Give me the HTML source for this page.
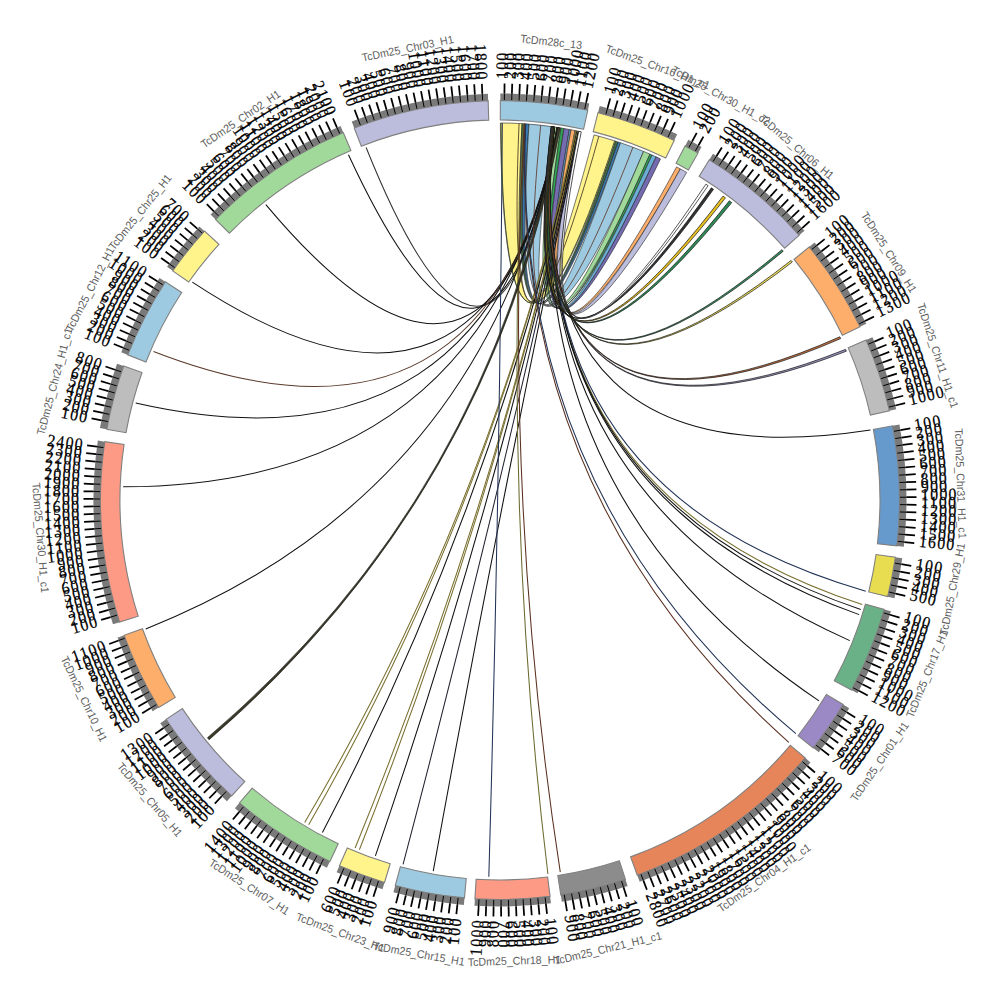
<!DOCTYPE html>
<html><head><meta charset="utf-8"><style>
html,body{margin:0;padding:0;background:#fff;}
svg{display:block;}
</style></head><body>
<svg width="1000" height="1000" viewBox="0 0 1000 1000">
<rect width="1000" height="1000" fill="#fff"/>
<g id="links">
<path d="M500.33,123 A377,377 0 0 1 522.03,123.64 Q504.06,474.05 594.01,134.91 A377,377 0 0 1 615.62,141.17 Q504.06,474.25 500.33,123 Z" fill="#fff38c" stroke="#222" stroke-width="0.6"/>
<path d="M522.03,123.64 A377,377 0 0 1 525.64,123.87 Q504.94,474.28 615.62,141.17 A377,377 0 0 1 618.06,141.96 Q504.9,474.3 522.03,123.64 Z" fill="#3e6e48" stroke="#222" stroke-width="0.6"/>
<path d="M525.64,123.87 A377,377 0 0 1 528.99,124.12 Q505.15,474.31 618.06,141.96 A377,377 0 0 1 620.5,142.78 Q505.11,474.33 525.64,123.87 Z" fill="#3a78b0" stroke="#222" stroke-width="0.6"/>
<path d="M528.99,124.12 A377,377 0 0 1 552.01,126.61 Q506.04,474.43 620.5,142.78 A377,377 0 0 1 643.6,151.42 Q506.04,474.64 528.99,124.12 Z" fill="#9ecae1" stroke="#222" stroke-width="0.6"/>
<path d="M554.75,127 A377,377 0 0 1 560.99,127.97 Q507.16,474.78 643.6,151.42 A377,377 0 0 1 649.97,154.11 Q507.16,474.84 554.75,127 Z" fill="#a1d99b" stroke="#222" stroke-width="0.6"/>
<path d="M560.99,127.97 A377,377 0 0 1 563.97,128.47 Q507.49,474.89 649.97,154.11 A377,377 0 0 1 652.02,155.01 Q507.46,474.9 560.99,127.97 Z" fill="#31a354" stroke="#222" stroke-width="0.6"/>
<path d="M563.97,128.47 A377,377 0 0 1 569.41,129.45 Q507.89,475.02 655.98,156.78 A377,377 0 0 1 660.52,158.88 Q507.86,475.06 563.97,128.47 Z" fill="#756bb1" stroke="#222" stroke-width="0.6"/>
<path d="M569.41,129.45 A377,377 0 0 1 571.03,129.75 Q507.81,474.97 652.02,155.01 A377,377 0 0 1 655.98,156.78 Q507.89,475.02 569.41,129.45 Z" fill="#6baed6" stroke="#222" stroke-width="0.6"/>
<path d="M571.03,129.75 A377,377 0 0 1 574.97,130.53 Q508.8,475.41 676.58,166.91 A377,377 0 0 1 680.35,168.94 Q508.8,475.45 571.03,129.75 Z" fill="#fdae6b" stroke="#222" stroke-width="0.6"/>
<path d="M574.97,130.53 A377,377 0 0 1 580.63,131.72 Q509.13,475.52 680.35,168.94 A377,377 0 0 1 686.67,172.46 Q509.16,475.6 574.97,130.53 Z" fill="#bcbddc" stroke="#222" stroke-width="0.6"/>
<path d="M557.03,127.34 Q496.69,474.87 348.47,154.8" fill="none" stroke="#111" stroke-width="1.05"/>
<path d="M557.35,127.39 Q497.32,474.62 366.12,147.57" fill="none" stroke="#333" stroke-width="1.05"/>
<path d="M557.03,127.34 Q493.8,476.62 265.83,204.55" fill="none" stroke="#111" stroke-width="1.05"/>
<path d="M557.68,127.44 Q491.25,479.34 192.32,282.15" fill="none" stroke="#111" stroke-width="1.05"/>
<path d="M557.68,127.44 Q489.89,481.76 153.49,351.48" fill="none" stroke="#5a3a2a" stroke-width="1.05"/>
<path d="M558,127.49 Q489.28,483.57 135.68,403.06" fill="none" stroke="#111" stroke-width="1.05"/>
<path d="M558,127.49 Q488.84,486.5 123.23,486.84" fill="none" stroke="#111" stroke-width="1.05"/>
<path d="M558.33,127.54 Q489.64,491.48 145.74,628.94" fill="none" stroke="#111" stroke-width="1.05"/>
<path d="M575.81,130.7 Q495.82,498.36 304.7,822.47" fill="none" stroke="#7a7030" stroke-width="1.05"/>
<path d="M576.13,130.77 Q495.97,498.45 308.66,824.83" fill="none" stroke="#7a7030" stroke-width="1.05"/>
<path d="M577.1,130.97 Q496.48,498.72 322.43,832.56" fill="none" stroke="#111" stroke-width="1.05"/>
<path d="M577.74,131.1 Q497.65,499.27 355.12,848.05" fill="none" stroke="#7a7030" stroke-width="1.05"/>
<path d="M578.06,131.17 Q497.81,499.33 359.38,849.79" fill="none" stroke="#7a7030" stroke-width="1.05"/>
<path d="M578.38,131.24 Q498.38,499.55 375.4,855.81" fill="none" stroke="#111" stroke-width="1.05"/>
<path d="M579.03,131.38 Q499.37,499.85 403.06,864.32" fill="none" stroke="#223" stroke-width="1.05"/>
<path d="M579.35,131.44 Q500.44,500.09 433.24,871.04" fill="none" stroke="#111" stroke-width="1.05"/>
<path d="M502.3,123.01 Q499.69,499.99 488.82,876.83" fill="none" stroke="#223355" stroke-width="1.05"/>
<path d="M523.67,123.74 Q502.51,499.92 547.9,873.94" fill="none" stroke="#6b6a30" stroke-width="1.05"/>
<path d="M524.33,123.79 Q502.96,499.86 560.28,872.15" fill="none" stroke="#5a3020" stroke-width="1.05"/>
<path d="M524.99,123.83 Q510.98,495.32 788.8,742.33" fill="none" stroke="#5a3020" stroke-width="1.05"/>
<path d="M525.64,123.87 Q511.25,495.01 795.86,733.66" fill="none" stroke="#223355" stroke-width="1.05"/>
<path d="M554.42,126.95 Q513.07,493.97 819.01,700.89" fill="none" stroke="#111" stroke-width="1.05"/>
<path d="M554.42,126.95 Q514.15,491.86 849.79,640.62" fill="none" stroke="#111" stroke-width="1.05"/>
<path d="M554.1,126.9 Q514.57,490.6 862.21,604.55" fill="none" stroke="#7a7030" stroke-width="1.05"/>
<path d="M554.1,126.9 Q514.52,490.78 860.72,609.59" fill="none" stroke="#111" stroke-width="1.05"/>
<path d="M554.1,126.9 Q514.46,490.95 859.15,614.62" fill="none" stroke="#111" stroke-width="1.05"/>
<path d="M553.77,126.85 Q514.69,490.13 865.8,591.2" fill="none" stroke="#223355" stroke-width="1.05"/>
<path d="M553.77,126.85 Q514.85,484.49 870.45,430" fill="none" stroke="#111" stroke-width="1.05"/>
<path d="M557.68,127.44 A377,377 0 0 1 560.28,127.85 Q491.93,495.37 209.1,739.8 A377,377 0 0 1 207.43,737.76 Q491.78,495.28 557.68,127.44 Z" fill="#3b3a28" stroke="#111" stroke-width="0.6"/>
<path d="M598.85,136.19 Q504.13,474.09 519.07,123.48" fill="none" stroke="#3a2a1a" stroke-width="0.8"/>
<path d="M632.95,147.22 Q506.08,474.53 540.72,125.21" fill="none" stroke="#5a3020" stroke-width="0.8"/>
<path d="M500.99,123 Q504.05,474.23 614.62,140.85" fill="none" stroke="#2a3a2a" stroke-width="0.8"/>
<path d="M552.47,126.67 A377,377 0 0 1 554.42,126.95 Q514,481.67 845.6,349.37 A377,377 0 0 1 846.38,351.18 Q513.96,481.72 552.47,126.67 Z" fill="#9a98c0" stroke="#111" stroke-width="0.7"/>
<path d="M552.47,126.67 A377,377 0 0 1 554.42,126.95 Q513.8,481.23 839.85,336.81 A377,377 0 0 1 840.7,338.59 Q513.76,481.28 552.47,126.67 Z" fill="#c07040" stroke="#111" stroke-width="0.7"/>
<path d="M552.14,126.62 A377,377 0 0 1 554.1,126.9 Q512.08,478.56 791.11,260.45 A377,377 0 0 1 792.36,261.98 Q512.06,478.6 552.14,126.62 Z" fill="#f0e060" stroke="#111" stroke-width="0.7"/>
<path d="M552.14,126.62 A377,377 0 0 1 554.1,126.9 Q511.76,478.18 781.92,249.7 A377,377 0 0 1 783.23,251.18 Q511.74,478.22 552.14,126.62 Z" fill="#3a9060" stroke="#111" stroke-width="0.7"/>
<path d="M551.33,126.51 A377,377 0 0 1 554.26,126.93 Q509.93,476.47 729.37,200.81 A377,377 0 0 1 731.72,202.62 Q509.91,476.52 551.33,126.51 Z" fill="#2e8b57" stroke="#111" stroke-width="0.7"/>
<path d="M551.33,126.51 A377,377 0 0 1 554.26,126.93 Q509.71,476.3 723.06,196.07 A377,377 0 0 1 725.44,197.83 Q509.69,476.35 551.33,126.51 Z" fill="#e8c020" stroke="#111" stroke-width="0.7"/>
<path d="M551.16,126.49 A377,377 0 0 1 553.77,126.85 Q509.28,476.01 711.36,187.82 A377,377 0 0 1 713.54,189.3 Q509.26,476.05 551.16,126.49 Z" fill="#333" stroke="#111" stroke-width="0.7"/>
<path d="M578.7,131.31 A377,377 0 0 1 581.28,131.87 Q510.05,476.06 705.88,184.18 A377,377 0 0 1 708.08,185.63 Q510.04,476.09 578.7,131.31 Z" fill="#fff" stroke="#111" stroke-width="0.7"/>
</g>
<g id="ideo">
<path d="M500.35,100.5 A399.5,399.5 0 0 1 587.83,110.27 L583.54,129.3 A380,380 0 0 0 500.33,120 Z" fill="#9ecae1" stroke="#808080" stroke-width="1.1"/>
<path d="M500.35,93.5 A406.5,406.5 0 0 1 589.37,103.45 L587.83,110.27 A399.5,399.5 0 0 0 500.35,100.5 Z" fill="#7a7a7a"/>
<path d="M598,112.71 A399.5,399.5 0 0 1 674.19,140.47 L665.69,158.02 A380,380 0 0 0 593.22,131.61 Z" fill="#fff38c" stroke="#808080" stroke-width="1.1"/>
<path d="M599.72,105.92 A406.5,406.5 0 0 1 677.24,134.17 L674.19,140.47 A399.5,399.5 0 0 0 598,112.71 Z" fill="#7a7a7a"/>
<path d="M685.09,145.96 A399.5,399.5 0 0 1 698.06,153.05 L688.39,169.99 A380,380 0 0 0 676.05,163.24 Z" fill="#a1d99b" stroke="#808080" stroke-width="1.1"/>
<path d="M688.33,139.76 A406.5,406.5 0 0 1 701.53,146.97 L698.06,153.05 A399.5,399.5 0 0 0 685.09,145.96 Z" fill="#7a7a7a"/>
<path d="M709.33,159.74 A399.5,399.5 0 0 1 799.21,235.28 L784.6,248.2 A380,380 0 0 0 699.11,176.34 Z" fill="#bcbddc" stroke="#808080" stroke-width="1.1"/>
<path d="M713,153.77 A406.5,406.5 0 0 1 804.45,230.64 L799.21,235.28 A399.5,399.5 0 0 0 709.33,159.74 Z" fill="#7a7a7a"/>
<path d="M809.15,246.96 A399.5,399.5 0 0 1 859.98,326.75 L842.41,335.21 A380,380 0 0 0 794.06,259.32 Z" fill="#fdae6b" stroke="#808080" stroke-width="1.1"/>
<path d="M814.57,242.53 A406.5,406.5 0 0 1 866.29,323.72 L859.98,326.75 A399.5,399.5 0 0 0 809.15,246.96 Z" fill="#7a7a7a"/>
<path d="M866.09,340.06 A399.5,399.5 0 0 1 889.42,410.81 L870.41,415.16 A380,380 0 0 0 848.22,347.87 Z" fill="#bdbdbd" stroke="#808080" stroke-width="1.1"/>
<path d="M872.5,337.26 A406.5,406.5 0 0 1 896.24,409.25 L889.42,410.81 A399.5,399.5 0 0 0 866.09,340.06 Z" fill="#7a7a7a"/>
<path d="M892.55,425.83 A399.5,399.5 0 0 1 896.85,545.92 L877.48,543.68 A380,380 0 0 0 873.39,429.45 Z" fill="#6699cc" stroke="#808080" stroke-width="1.1"/>
<path d="M899.43,424.53 A406.5,406.5 0 0 1 903.81,546.72 L896.85,545.92 A399.5,399.5 0 0 0 892.55,425.83 Z" fill="#7a7a7a"/>
<path d="M895.37,557.33 A399.5,399.5 0 0 1 887.63,596.65 L868.71,591.93 A380,380 0 0 0 876.07,554.53 Z" fill="#e8dc50" stroke="#808080" stroke-width="1.1"/>
<path d="M902.29,558.33 A406.5,406.5 0 0 1 894.43,598.34 L887.63,596.65 A399.5,399.5 0 0 0 895.37,557.33 Z" fill="#7a7a7a"/>
<path d="M884.22,609.45 A399.5,399.5 0 0 1 851.42,690.01 L834.27,680.74 A380,380 0 0 0 865.46,604.1 Z" fill="#6ab187" stroke="#808080" stroke-width="1.1"/>
<path d="M890.95,611.36 A406.5,406.5 0 0 1 857.58,693.34 L851.42,690.01 A399.5,399.5 0 0 0 884.22,609.45 Z" fill="#7a7a7a"/>
<path d="M843.15,704.56 A399.5,399.5 0 0 1 813.3,747.88 L798.01,735.78 A380,380 0 0 0 826.4,694.58 Z" fill="#9a89c4" stroke="#808080" stroke-width="1.1"/>
<path d="M849.17,708.15 A406.5,406.5 0 0 1 818.79,752.22 L813.3,747.88 A399.5,399.5 0 0 0 843.15,704.56 Z" fill="#7a7a7a"/>
<path d="M805.14,757.86 A399.5,399.5 0 0 1 637.29,875.17 L630.59,856.86 A380,380 0 0 0 790.24,745.27 Z" fill="#e6855a" stroke="#808080" stroke-width="1.1"/>
<path d="M810.48,762.38 A406.5,406.5 0 0 1 639.7,881.74 L637.29,875.17 A399.5,399.5 0 0 0 805.14,757.86 Z" fill="#7a7a7a"/>
<path d="M625.44,879.3 A399.5,399.5 0 0 1 560.77,894.85 L557.81,875.58 A380,380 0 0 0 619.32,860.78 Z" fill="#8c8c8c" stroke="#808080" stroke-width="1.1"/>
<path d="M627.64,885.94 A406.5,406.5 0 0 1 561.84,901.77 L560.77,894.85 A399.5,399.5 0 0 0 625.44,879.3 Z" fill="#7a7a7a"/>
<path d="M550.07,896.35 A399.5,399.5 0 0 1 474.92,898.71 L476.14,879.25 A380,380 0 0 0 547.63,877 Z" fill="#fc9a85" stroke="#808080" stroke-width="1.1"/>
<path d="M550.95,903.29 A406.5,406.5 0 0 1 474.48,905.7 L474.92,898.71 A399.5,399.5 0 0 0 550.07,896.35 Z" fill="#7a7a7a"/>
<path d="M464.49,897.92 A399.5,399.5 0 0 1 395.26,885.52 L400.37,866.71 A380,380 0 0 0 466.22,878.5 Z" fill="#9ecae1" stroke="#808080" stroke-width="1.1"/>
<path d="M463.86,904.89 A406.5,406.5 0 0 1 393.42,892.28 L395.26,885.52 A399.5,399.5 0 0 0 464.49,897.92 Z" fill="#7a7a7a"/>
<path d="M384.53,882.45 A399.5,399.5 0 0 1 339.42,865.81 L347.26,847.95 A380,380 0 0 0 390.17,863.78 Z" fill="#fff38c" stroke="#808080" stroke-width="1.1"/>
<path d="M382.51,889.15 A406.5,406.5 0 0 1 336.61,872.22 L339.42,865.81 A399.5,399.5 0 0 0 384.53,882.45 Z" fill="#7a7a7a"/>
<path d="M329.9,861.48 A399.5,399.5 0 0 1 239.49,802.87 L252.2,788.09 A380,380 0 0 0 338.2,843.83 Z" fill="#a1d99b" stroke="#808080" stroke-width="1.1"/>
<path d="M326.92,867.81 A406.5,406.5 0 0 1 234.92,808.18 L239.49,802.87 A399.5,399.5 0 0 0 329.9,861.48 Z" fill="#7a7a7a"/>
<path d="M231.65,795.95 A399.5,399.5 0 0 1 166.09,719.33 L182.39,708.63 A380,380 0 0 0 244.75,781.51 Z" fill="#bcbddc" stroke="#808080" stroke-width="1.1"/>
<path d="M226.95,801.14 A406.5,406.5 0 0 1 160.24,723.18 L166.09,719.33 A399.5,399.5 0 0 0 231.65,795.95 Z" fill="#7a7a7a"/>
<path d="M158.64,707.55 A399.5,399.5 0 0 1 124.12,635.33 L142.47,628.72 A380,380 0 0 0 175.31,697.42 Z" fill="#fdae6b" stroke="#808080" stroke-width="1.1"/>
<path d="M152.66,711.18 A406.5,406.5 0 0 1 117.53,637.7 L124.12,635.33 A399.5,399.5 0 0 0 158.64,707.55 Z" fill="#7a7a7a"/>
<path d="M119.62,622.13 A399.5,399.5 0 0 1 104.79,441.64 L124.08,444.49 A380,380 0 0 0 138.19,616.16 Z" fill="#fc9a85" stroke="#808080" stroke-width="1.1"/>
<path d="M112.96,624.27 A406.5,406.5 0 0 1 97.86,440.62 L104.79,441.64 A399.5,399.5 0 0 0 119.62,622.13 Z" fill="#7a7a7a"/>
<path d="M106.81,429.25 A399.5,399.5 0 0 1 123.65,365.99 L142.02,372.53 A380,380 0 0 0 126.01,432.71 Z" fill="#bdbdbd" stroke="#808080" stroke-width="1.1"/>
<path d="M99.92,428.02 A406.5,406.5 0 0 1 117.05,363.64 L123.65,365.99 A399.5,399.5 0 0 0 106.81,429.25 Z" fill="#7a7a7a"/>
<path d="M127.79,354.88 A399.5,399.5 0 0 1 165.33,281.83 L181.67,292.48 A380,380 0 0 0 145.96,361.96 Z" fill="#9ecae1" stroke="#808080" stroke-width="1.1"/>
<path d="M121.27,352.34 A406.5,406.5 0 0 1 159.47,278.01 L165.33,281.83 A399.5,399.5 0 0 0 127.79,354.88 Z" fill="#7a7a7a"/>
<path d="M172.75,270.86 A399.5,399.5 0 0 1 204.52,231.13 L218.94,244.26 A380,380 0 0 0 188.72,282.04 Z" fill="#fff38c" stroke="#808080" stroke-width="1.1"/>
<path d="M167.01,266.84 A406.5,406.5 0 0 1 199.34,226.42 L204.52,231.13 A399.5,399.5 0 0 0 172.75,270.86 Z" fill="#7a7a7a"/>
<path d="M215.55,219.49 A399.5,399.5 0 0 1 343.26,132.53 L350.91,150.47 A380,380 0 0 0 229.43,233.18 Z" fill="#a1d99b" stroke="#808080" stroke-width="1.1"/>
<path d="M210.56,214.57 A406.5,406.5 0 0 1 340.51,126.09 L343.26,132.53 A399.5,399.5 0 0 0 215.55,219.49 Z" fill="#7a7a7a"/>
<path d="M354.23,128.04 A399.5,399.5 0 0 1 488.15,100.68 L488.73,120.17 A380,380 0 0 0 361.35,146.2 Z" fill="#bcbddc" stroke="#808080" stroke-width="1.1"/>
<path d="M351.68,121.53 A406.5,406.5 0 0 1 487.94,93.68 L488.15,100.68 A399.5,399.5 0 0 0 354.23,128.04 Z" fill="#7a7a7a"/>
</g>
<g id="ticks" stroke="#000">
<line x1="504.36" y1="100.02" x2="504.43" y2="93.52" stroke-width="1"/>
<line x1="504.43" y1="93.52" x2="504.54" y2="83.52" stroke-width="1.75"/>
<line x1="511.73" y1="100.17" x2="511.92" y2="93.67" stroke-width="1"/>
<line x1="511.92" y1="93.67" x2="512.21" y2="83.68" stroke-width="1.75"/>
<line x1="519.08" y1="100.46" x2="519.4" y2="93.96" stroke-width="1"/>
<line x1="519.4" y1="93.96" x2="519.87" y2="83.97" stroke-width="1.75"/>
<line x1="526.44" y1="100.87" x2="526.87" y2="94.39" stroke-width="1"/>
<line x1="526.87" y1="94.39" x2="527.53" y2="84.41" stroke-width="1.75"/>
<line x1="533.78" y1="101.43" x2="534.33" y2="94.95" stroke-width="1"/>
<line x1="534.33" y1="94.95" x2="535.18" y2="84.99" stroke-width="1.75"/>
<line x1="541.12" y1="102.12" x2="541.78" y2="95.65" stroke-width="1"/>
<line x1="541.78" y1="95.65" x2="542.81" y2="85.71" stroke-width="1.75"/>
<line x1="548.43" y1="102.94" x2="549.22" y2="96.49" stroke-width="1"/>
<line x1="549.22" y1="96.49" x2="550.43" y2="86.56" stroke-width="1.75"/>
<line x1="555.74" y1="103.9" x2="556.64" y2="97.47" stroke-width="1"/>
<line x1="556.64" y1="97.47" x2="558.04" y2="87.56" stroke-width="1.75"/>
<line x1="563.02" y1="105" x2="564.04" y2="98.58" stroke-width="1"/>
<line x1="564.04" y1="98.58" x2="565.62" y2="88.7" stroke-width="1.75"/>
<line x1="570.28" y1="106.22" x2="571.42" y2="99.82" stroke-width="1"/>
<line x1="571.42" y1="99.82" x2="573.18" y2="89.98" stroke-width="1.75"/>
<line x1="577.52" y1="107.58" x2="578.78" y2="101.21" stroke-width="1"/>
<line x1="578.78" y1="101.21" x2="580.72" y2="91.4" stroke-width="1.75"/>
<line x1="584.73" y1="109.08" x2="586.11" y2="102.73" stroke-width="1"/>
<line x1="586.11" y1="102.73" x2="588.23" y2="92.95" stroke-width="1.75"/>
<line x1="605.89" y1="114.27" x2="607.61" y2="108" stroke-width="1"/>
<line x1="607.61" y1="108" x2="610.25" y2="98.36" stroke-width="1.75"/>
<line x1="612.97" y1="116.28" x2="614.81" y2="110.05" stroke-width="1"/>
<line x1="614.81" y1="110.05" x2="617.63" y2="100.46" stroke-width="1.75"/>
<line x1="620.02" y1="118.43" x2="621.97" y2="112.23" stroke-width="1"/>
<line x1="621.97" y1="112.23" x2="624.97" y2="102.69" stroke-width="1.75"/>
<line x1="627.02" y1="120.7" x2="629.09" y2="114.54" stroke-width="1"/>
<line x1="629.09" y1="114.54" x2="632.26" y2="105.06" stroke-width="1.75"/>
<line x1="633.98" y1="123.11" x2="636.16" y2="116.98" stroke-width="1"/>
<line x1="636.16" y1="116.98" x2="639.51" y2="107.56" stroke-width="1.75"/>
<line x1="640.9" y1="125.64" x2="643.19" y2="119.55" stroke-width="1"/>
<line x1="643.19" y1="119.55" x2="646.71" y2="110.2" stroke-width="1.75"/>
<line x1="647.77" y1="128.3" x2="650.17" y2="122.26" stroke-width="1"/>
<line x1="650.17" y1="122.26" x2="653.86" y2="112.96" stroke-width="1.75"/>
<line x1="654.59" y1="131.08" x2="657.1" y2="125.08" stroke-width="1"/>
<line x1="657.1" y1="125.08" x2="660.96" y2="115.86" stroke-width="1.75"/>
<line x1="661.35" y1="133.99" x2="663.98" y2="128.04" stroke-width="1"/>
<line x1="663.98" y1="128.04" x2="668.01" y2="118.89" stroke-width="1.75"/>
<line x1="668.07" y1="137.02" x2="670.8" y2="131.12" stroke-width="1"/>
<line x1="670.8" y1="131.12" x2="675" y2="122.05" stroke-width="1.75"/>
<line x1="688.93" y1="147.43" x2="692" y2="141.7" stroke-width="1"/>
<line x1="692" y1="141.7" x2="696.73" y2="132.89" stroke-width="1.75"/>
<line x1="695.39" y1="150.97" x2="698.57" y2="145.3" stroke-width="1"/>
<line x1="698.57" y1="145.3" x2="703.45" y2="136.57" stroke-width="1.75"/>
<line x1="713.1" y1="161.49" x2="716.56" y2="155.99" stroke-width="1"/>
<line x1="716.56" y1="155.99" x2="721.89" y2="147.53" stroke-width="1.75"/>
<line x1="719.3" y1="165.47" x2="722.86" y2="160.04" stroke-width="1"/>
<line x1="722.86" y1="160.04" x2="728.34" y2="151.67" stroke-width="1.75"/>
<line x1="725.42" y1="169.57" x2="729.08" y2="164.2" stroke-width="1"/>
<line x1="729.08" y1="164.2" x2="734.72" y2="155.94" stroke-width="1.75"/>
<line x1="731.46" y1="173.77" x2="735.22" y2="168.47" stroke-width="1"/>
<line x1="735.22" y1="168.47" x2="741.01" y2="160.32" stroke-width="1.75"/>
<line x1="737.43" y1="178.09" x2="741.29" y2="172.86" stroke-width="1"/>
<line x1="741.29" y1="172.86" x2="747.22" y2="164.81" stroke-width="1.75"/>
<line x1="743.32" y1="182.52" x2="747.27" y2="177.36" stroke-width="1"/>
<line x1="747.27" y1="177.36" x2="753.35" y2="169.42" stroke-width="1.75"/>
<line x1="749.12" y1="187.05" x2="753.17" y2="181.96" stroke-width="1"/>
<line x1="753.17" y1="181.96" x2="759.4" y2="174.14" stroke-width="1.75"/>
<line x1="754.84" y1="191.69" x2="758.98" y2="186.68" stroke-width="1"/>
<line x1="758.98" y1="186.68" x2="765.35" y2="178.97" stroke-width="1.75"/>
<line x1="760.48" y1="196.43" x2="764.71" y2="191.5" stroke-width="1"/>
<line x1="764.71" y1="191.5" x2="771.22" y2="183.91" stroke-width="1.75"/>
<line x1="766.02" y1="201.28" x2="770.34" y2="196.43" stroke-width="1"/>
<line x1="770.34" y1="196.43" x2="776.99" y2="188.96" stroke-width="1.75"/>
<line x1="771.48" y1="206.23" x2="775.89" y2="201.46" stroke-width="1"/>
<line x1="775.89" y1="201.46" x2="782.67" y2="194.11" stroke-width="1.75"/>
<line x1="776.84" y1="211.28" x2="781.34" y2="206.59" stroke-width="1"/>
<line x1="781.34" y1="206.59" x2="788.26" y2="199.37" stroke-width="1.75"/>
<line x1="782.11" y1="216.42" x2="786.69" y2="211.82" stroke-width="1"/>
<line x1="786.69" y1="211.82" x2="793.74" y2="204.73" stroke-width="1.75"/>
<line x1="787.28" y1="221.67" x2="791.95" y2="217.14" stroke-width="1"/>
<line x1="791.95" y1="217.14" x2="799.13" y2="210.18" stroke-width="1.75"/>
<line x1="792.36" y1="227" x2="797.11" y2="222.57" stroke-width="1"/>
<line x1="797.11" y1="222.57" x2="804.42" y2="215.74" stroke-width="1.75"/>
<line x1="797.33" y1="232.43" x2="802.17" y2="228.08" stroke-width="1"/>
<line x1="802.17" y1="228.08" x2="809.6" y2="221.39" stroke-width="1.75"/>
<line x1="811.81" y1="249.45" x2="816.88" y2="245.38" stroke-width="1"/>
<line x1="816.88" y1="245.38" x2="824.67" y2="239.12" stroke-width="1.75"/>
<line x1="816.37" y1="255.23" x2="821.51" y2="251.26" stroke-width="1"/>
<line x1="821.51" y1="251.26" x2="829.42" y2="245.14" stroke-width="1.75"/>
<line x1="820.82" y1="261.1" x2="826.04" y2="257.22" stroke-width="1"/>
<line x1="826.04" y1="257.22" x2="834.06" y2="251.25" stroke-width="1.75"/>
<line x1="825.17" y1="267.05" x2="830.45" y2="263.26" stroke-width="1"/>
<line x1="830.45" y1="263.26" x2="838.58" y2="257.44" stroke-width="1.75"/>
<line x1="829.4" y1="273.08" x2="834.75" y2="269.39" stroke-width="1"/>
<line x1="834.75" y1="269.39" x2="842.99" y2="263.71" stroke-width="1.75"/>
<line x1="833.52" y1="279.18" x2="838.94" y2="275.59" stroke-width="1"/>
<line x1="838.94" y1="275.59" x2="847.28" y2="270.07" stroke-width="1.75"/>
<line x1="837.53" y1="285.36" x2="843.02" y2="281.87" stroke-width="1"/>
<line x1="843.02" y1="281.87" x2="851.46" y2="276.5" stroke-width="1.75"/>
<line x1="841.43" y1="291.61" x2="846.98" y2="288.22" stroke-width="1"/>
<line x1="846.98" y1="288.22" x2="855.51" y2="283.01" stroke-width="1.75"/>
<line x1="845.21" y1="297.93" x2="850.82" y2="294.65" stroke-width="1"/>
<line x1="850.82" y1="294.65" x2="859.45" y2="289.59" stroke-width="1.75"/>
<line x1="848.87" y1="304.32" x2="854.54" y2="301.14" stroke-width="1"/>
<line x1="854.54" y1="301.14" x2="863.26" y2="296.25" stroke-width="1.75"/>
<line x1="852.41" y1="310.78" x2="858.14" y2="307.7" stroke-width="1"/>
<line x1="858.14" y1="307.7" x2="866.95" y2="302.97" stroke-width="1.75"/>
<line x1="855.84" y1="317.3" x2="861.62" y2="314.33" stroke-width="1"/>
<line x1="861.62" y1="314.33" x2="870.51" y2="309.76" stroke-width="1.75"/>
<line x1="859.14" y1="323.88" x2="864.98" y2="321.02" stroke-width="1"/>
<line x1="864.98" y1="321.02" x2="873.95" y2="316.62" stroke-width="1.75"/>
<line x1="868.37" y1="344.11" x2="874.36" y2="341.58" stroke-width="1"/>
<line x1="874.36" y1="341.58" x2="883.57" y2="337.68" stroke-width="1.75"/>
<line x1="871.18" y1="350.92" x2="877.21" y2="348.5" stroke-width="1"/>
<line x1="877.21" y1="348.5" x2="886.49" y2="344.77" stroke-width="1.75"/>
<line x1="873.86" y1="357.78" x2="879.94" y2="355.47" stroke-width="1"/>
<line x1="879.94" y1="355.47" x2="889.28" y2="351.91" stroke-width="1.75"/>
<line x1="876.42" y1="364.69" x2="882.53" y2="362.49" stroke-width="1"/>
<line x1="882.53" y1="362.49" x2="891.95" y2="359.11" stroke-width="1.75"/>
<line x1="878.85" y1="371.64" x2="885" y2="369.55" stroke-width="1"/>
<line x1="885" y1="369.55" x2="894.47" y2="366.35" stroke-width="1.75"/>
<line x1="881.14" y1="378.64" x2="887.34" y2="376.67" stroke-width="1"/>
<line x1="887.34" y1="376.67" x2="896.87" y2="373.63" stroke-width="1.75"/>
<line x1="883.31" y1="385.68" x2="889.54" y2="383.82" stroke-width="1"/>
<line x1="889.54" y1="383.82" x2="899.13" y2="380.96" stroke-width="1.75"/>
<line x1="885.35" y1="392.75" x2="891.62" y2="391.01" stroke-width="1"/>
<line x1="891.62" y1="391.01" x2="901.25" y2="388.33" stroke-width="1.75"/>
<line x1="887.26" y1="399.87" x2="893.56" y2="398.24" stroke-width="1"/>
<line x1="893.56" y1="398.24" x2="903.24" y2="395.74" stroke-width="1.75"/>
<line x1="889.04" y1="407.01" x2="895.36" y2="405.5" stroke-width="1"/>
<line x1="895.36" y1="405.5" x2="905.09" y2="403.18" stroke-width="1.75"/>
<line x1="894.06" y1="431.31" x2="900.46" y2="430.19" stroke-width="1"/>
<line x1="900.46" y1="430.19" x2="910.31" y2="428.47" stroke-width="1.75"/>
<line x1="895.26" y1="438.57" x2="901.68" y2="437.57" stroke-width="1"/>
<line x1="901.68" y1="437.57" x2="911.56" y2="436.04" stroke-width="1.75"/>
<line x1="896.32" y1="445.86" x2="902.76" y2="444.98" stroke-width="1"/>
<line x1="902.76" y1="444.98" x2="912.67" y2="443.63" stroke-width="1.75"/>
<line x1="897.25" y1="453.17" x2="903.7" y2="452.41" stroke-width="1"/>
<line x1="903.7" y1="452.41" x2="913.64" y2="451.24" stroke-width="1.75"/>
<line x1="898.04" y1="460.49" x2="904.51" y2="459.85" stroke-width="1"/>
<line x1="904.51" y1="459.85" x2="914.46" y2="458.86" stroke-width="1.75"/>
<line x1="898.7" y1="467.82" x2="905.18" y2="467.3" stroke-width="1"/>
<line x1="905.18" y1="467.3" x2="915.15" y2="466.5" stroke-width="1.75"/>
<line x1="899.23" y1="475.17" x2="905.72" y2="474.77" stroke-width="1"/>
<line x1="905.72" y1="474.77" x2="915.7" y2="474.15" stroke-width="1.75"/>
<line x1="899.62" y1="482.53" x2="906.11" y2="482.24" stroke-width="1"/>
<line x1="906.11" y1="482.24" x2="916.1" y2="481.81" stroke-width="1.75"/>
<line x1="899.87" y1="489.89" x2="906.37" y2="489.72" stroke-width="1"/>
<line x1="906.37" y1="489.72" x2="916.37" y2="489.47" stroke-width="1.75"/>
<line x1="899.99" y1="497.25" x2="906.49" y2="497.21" stroke-width="1"/>
<line x1="906.49" y1="497.21" x2="916.49" y2="497.14" stroke-width="1.75"/>
<line x1="899.97" y1="504.62" x2="906.47" y2="504.69" stroke-width="1"/>
<line x1="906.47" y1="504.69" x2="916.47" y2="504.81" stroke-width="1.75"/>
<line x1="899.82" y1="511.98" x2="906.32" y2="512.17" stroke-width="1"/>
<line x1="906.32" y1="512.17" x2="916.31" y2="512.47" stroke-width="1.75"/>
<line x1="899.53" y1="519.34" x2="906.02" y2="519.65" stroke-width="1"/>
<line x1="906.02" y1="519.65" x2="916.01" y2="520.14" stroke-width="1.75"/>
<line x1="899.11" y1="526.69" x2="905.59" y2="527.13" stroke-width="1"/>
<line x1="905.59" y1="527.13" x2="915.57" y2="527.79" stroke-width="1.75"/>
<line x1="898.55" y1="534.04" x2="905.03" y2="534.59" stroke-width="1"/>
<line x1="905.03" y1="534.59" x2="914.99" y2="535.44" stroke-width="1.75"/>
<line x1="897.86" y1="541.37" x2="904.32" y2="542.04" stroke-width="1"/>
<line x1="904.32" y1="542.04" x2="914.27" y2="543.08" stroke-width="1.75"/>
<line x1="894.97" y1="563.2" x2="901.39" y2="564.23" stroke-width="1"/>
<line x1="901.39" y1="564.23" x2="911.27" y2="565.81" stroke-width="1.75"/>
<line x1="893.74" y1="570.47" x2="900.14" y2="571.61" stroke-width="1"/>
<line x1="900.14" y1="571.61" x2="909.99" y2="573.37" stroke-width="1.75"/>
<line x1="892.38" y1="577.7" x2="898.76" y2="578.97" stroke-width="1"/>
<line x1="898.76" y1="578.97" x2="908.57" y2="580.91" stroke-width="1.75"/>
<line x1="890.88" y1="584.92" x2="897.23" y2="586.3" stroke-width="1"/>
<line x1="897.23" y1="586.3" x2="907.01" y2="588.42" stroke-width="1.75"/>
<line x1="889.25" y1="592.1" x2="895.58" y2="593.59" stroke-width="1"/>
<line x1="895.58" y1="593.59" x2="905.31" y2="595.9" stroke-width="1.75"/>
<line x1="883.74" y1="612.88" x2="889.98" y2="614.72" stroke-width="1"/>
<line x1="889.98" y1="614.72" x2="899.57" y2="617.54" stroke-width="1.75"/>
<line x1="881.6" y1="619.93" x2="887.8" y2="621.88" stroke-width="1"/>
<line x1="887.8" y1="621.88" x2="897.34" y2="624.88" stroke-width="1.75"/>
<line x1="879.32" y1="626.94" x2="885.49" y2="629" stroke-width="1"/>
<line x1="885.49" y1="629" x2="894.97" y2="632.17" stroke-width="1.75"/>
<line x1="876.92" y1="633.9" x2="883.05" y2="636.08" stroke-width="1"/>
<line x1="883.05" y1="636.08" x2="892.47" y2="639.42" stroke-width="1.75"/>
<line x1="874.39" y1="640.82" x2="880.48" y2="643.1" stroke-width="1"/>
<line x1="880.48" y1="643.1" x2="889.84" y2="646.63" stroke-width="1.75"/>
<line x1="871.74" y1="647.69" x2="877.78" y2="650.09" stroke-width="1"/>
<line x1="877.78" y1="650.09" x2="887.07" y2="653.78" stroke-width="1.75"/>
<line x1="868.96" y1="654.51" x2="874.95" y2="657.02" stroke-width="1"/>
<line x1="874.95" y1="657.02" x2="884.17" y2="660.88" stroke-width="1.75"/>
<line x1="866.05" y1="661.27" x2="872" y2="663.89" stroke-width="1"/>
<line x1="872" y1="663.89" x2="881.15" y2="667.93" stroke-width="1.75"/>
<line x1="863.02" y1="667.99" x2="868.92" y2="670.71" stroke-width="1"/>
<line x1="868.92" y1="670.71" x2="877.99" y2="674.91" stroke-width="1.75"/>
<line x1="859.86" y1="674.64" x2="865.71" y2="677.48" stroke-width="1"/>
<line x1="865.71" y1="677.48" x2="874.71" y2="681.84" stroke-width="1.75"/>
<line x1="856.59" y1="681.24" x2="862.38" y2="684.18" stroke-width="1"/>
<line x1="862.38" y1="684.18" x2="871.29" y2="688.71" stroke-width="1.75"/>
<line x1="853.19" y1="687.77" x2="858.93" y2="690.82" stroke-width="1"/>
<line x1="858.93" y1="690.82" x2="867.76" y2="695.52" stroke-width="1.75"/>
<line x1="841.16" y1="708.83" x2="846.71" y2="712.22" stroke-width="1"/>
<line x1="846.71" y1="712.22" x2="855.23" y2="717.44" stroke-width="1.75"/>
<line x1="837.26" y1="715.07" x2="842.74" y2="718.57" stroke-width="1"/>
<line x1="842.74" y1="718.57" x2="851.17" y2="723.94" stroke-width="1.75"/>
<line x1="833.24" y1="721.25" x2="838.66" y2="724.84" stroke-width="1"/>
<line x1="838.66" y1="724.84" x2="846.99" y2="730.37" stroke-width="1.75"/>
<line x1="829.11" y1="727.34" x2="834.46" y2="731.04" stroke-width="1"/>
<line x1="834.46" y1="731.04" x2="842.69" y2="736.72" stroke-width="1.75"/>
<line x1="824.87" y1="733.37" x2="830.15" y2="737.16" stroke-width="1"/>
<line x1="830.15" y1="737.16" x2="838.27" y2="742.99" stroke-width="1.75"/>
<line x1="820.52" y1="739.31" x2="825.73" y2="743.2" stroke-width="1"/>
<line x1="825.73" y1="743.2" x2="833.74" y2="749.18" stroke-width="1.75"/>
<line x1="816.06" y1="745.17" x2="821.19" y2="749.15" stroke-width="1"/>
<line x1="821.19" y1="749.15" x2="829.1" y2="755.28" stroke-width="1.75"/>
<line x1="802.49" y1="761.73" x2="807.4" y2="765.98" stroke-width="1"/>
<line x1="807.4" y1="765.98" x2="814.96" y2="772.53" stroke-width="1.75"/>
<line x1="797.62" y1="767.25" x2="802.45" y2="771.6" stroke-width="1"/>
<line x1="802.45" y1="771.6" x2="809.89" y2="778.28" stroke-width="1.75"/>
<line x1="792.65" y1="772.69" x2="797.4" y2="777.12" stroke-width="1"/>
<line x1="797.4" y1="777.12" x2="804.72" y2="783.94" stroke-width="1.75"/>
<line x1="787.57" y1="778.03" x2="792.25" y2="782.55" stroke-width="1"/>
<line x1="792.25" y1="782.55" x2="799.44" y2="789.5" stroke-width="1.75"/>
<line x1="782.41" y1="783.28" x2="787" y2="787.88" stroke-width="1"/>
<line x1="787" y1="787.88" x2="794.06" y2="794.96" stroke-width="1.75"/>
<line x1="777.14" y1="788.43" x2="781.65" y2="793.12" stroke-width="1"/>
<line x1="781.65" y1="793.12" x2="788.58" y2="800.33" stroke-width="1.75"/>
<line x1="771.79" y1="793.48" x2="776.2" y2="798.25" stroke-width="1"/>
<line x1="776.2" y1="798.25" x2="783" y2="805.59" stroke-width="1.75"/>
<line x1="766.34" y1="798.44" x2="770.66" y2="803.29" stroke-width="1"/>
<line x1="770.66" y1="803.29" x2="777.32" y2="810.75" stroke-width="1.75"/>
<line x1="760.8" y1="803.29" x2="765.03" y2="808.22" stroke-width="1"/>
<line x1="765.03" y1="808.22" x2="771.55" y2="815.8" stroke-width="1.75"/>
<line x1="755.17" y1="808.04" x2="759.31" y2="813.05" stroke-width="1"/>
<line x1="759.31" y1="813.05" x2="765.69" y2="820.75" stroke-width="1.75"/>
<line x1="749.45" y1="812.69" x2="753.51" y2="817.77" stroke-width="1"/>
<line x1="753.51" y1="817.77" x2="759.74" y2="825.59" stroke-width="1.75"/>
<line x1="743.65" y1="817.23" x2="747.61" y2="822.38" stroke-width="1"/>
<line x1="747.61" y1="822.38" x2="753.7" y2="830.31" stroke-width="1.75"/>
<line x1="737.77" y1="821.66" x2="741.63" y2="826.89" stroke-width="1"/>
<line x1="741.63" y1="826.89" x2="747.58" y2="834.93" stroke-width="1.75"/>
<line x1="731.81" y1="825.98" x2="735.57" y2="831.28" stroke-width="1"/>
<line x1="735.57" y1="831.28" x2="741.37" y2="839.43" stroke-width="1.75"/>
<line x1="725.77" y1="830.2" x2="729.44" y2="835.56" stroke-width="1"/>
<line x1="729.44" y1="835.56" x2="735.08" y2="843.82" stroke-width="1.75"/>
<line x1="719.65" y1="834.3" x2="723.22" y2="839.73" stroke-width="1"/>
<line x1="723.22" y1="839.73" x2="728.71" y2="848.09" stroke-width="1.75"/>
<line x1="713.46" y1="838.28" x2="716.92" y2="843.78" stroke-width="1"/>
<line x1="716.92" y1="843.78" x2="722.26" y2="852.24" stroke-width="1.75"/>
<line x1="707.19" y1="842.16" x2="710.56" y2="847.72" stroke-width="1"/>
<line x1="710.56" y1="847.72" x2="715.74" y2="856.27" stroke-width="1.75"/>
<line x1="700.86" y1="845.91" x2="704.12" y2="851.54" stroke-width="1"/>
<line x1="704.12" y1="851.54" x2="709.14" y2="860.18" stroke-width="1.75"/>
<line x1="694.45" y1="849.55" x2="697.61" y2="855.23" stroke-width="1"/>
<line x1="697.61" y1="855.23" x2="702.47" y2="863.97" stroke-width="1.75"/>
<line x1="687.98" y1="853.07" x2="691.04" y2="858.81" stroke-width="1"/>
<line x1="691.04" y1="858.81" x2="695.74" y2="867.64" stroke-width="1.75"/>
<line x1="681.45" y1="856.48" x2="684.4" y2="862.27" stroke-width="1"/>
<line x1="684.4" y1="862.27" x2="688.94" y2="871.18" stroke-width="1.75"/>
<line x1="674.86" y1="859.76" x2="677.7" y2="865.6" stroke-width="1"/>
<line x1="677.7" y1="865.6" x2="682.07" y2="874.6" stroke-width="1.75"/>
<line x1="668.2" y1="862.92" x2="670.94" y2="868.81" stroke-width="1"/>
<line x1="670.94" y1="868.81" x2="675.14" y2="877.89" stroke-width="1.75"/>
<line x1="661.49" y1="865.95" x2="664.12" y2="871.9" stroke-width="1"/>
<line x1="664.12" y1="871.9" x2="668.15" y2="881.05" stroke-width="1.75"/>
<line x1="654.73" y1="868.86" x2="657.24" y2="874.86" stroke-width="1"/>
<line x1="657.24" y1="874.86" x2="661.11" y2="884.08" stroke-width="1.75"/>
<line x1="647.91" y1="871.65" x2="650.31" y2="877.69" stroke-width="1"/>
<line x1="650.31" y1="877.69" x2="654.01" y2="886.98" stroke-width="1.75"/>
<line x1="641.04" y1="874.31" x2="643.33" y2="880.39" stroke-width="1"/>
<line x1="643.33" y1="880.39" x2="646.86" y2="889.75" stroke-width="1.75"/>
<line x1="621.54" y1="881.09" x2="623.52" y2="887.28" stroke-width="1"/>
<line x1="623.52" y1="887.28" x2="626.56" y2="896.81" stroke-width="1.75"/>
<line x1="614.51" y1="883.26" x2="616.37" y2="889.49" stroke-width="1"/>
<line x1="616.37" y1="889.49" x2="619.23" y2="899.07" stroke-width="1.75"/>
<line x1="607.43" y1="885.3" x2="609.18" y2="891.56" stroke-width="1"/>
<line x1="609.18" y1="891.56" x2="611.86" y2="901.2" stroke-width="1.75"/>
<line x1="600.32" y1="887.22" x2="601.95" y2="893.51" stroke-width="1"/>
<line x1="601.95" y1="893.51" x2="604.46" y2="903.19" stroke-width="1.75"/>
<line x1="593.17" y1="889" x2="594.69" y2="895.32" stroke-width="1"/>
<line x1="594.69" y1="895.32" x2="597.01" y2="905.04" stroke-width="1.75"/>
<line x1="585.99" y1="890.65" x2="587.39" y2="897" stroke-width="1"/>
<line x1="587.39" y1="897" x2="589.54" y2="906.76" stroke-width="1.75"/>
<line x1="578.79" y1="892.16" x2="580.07" y2="898.54" stroke-width="1"/>
<line x1="580.07" y1="898.54" x2="582.04" y2="908.34" stroke-width="1.75"/>
<line x1="571.55" y1="893.55" x2="572.71" y2="899.94" stroke-width="1"/>
<line x1="572.71" y1="899.94" x2="574.5" y2="909.78" stroke-width="1.75"/>
<line x1="564.29" y1="894.8" x2="565.34" y2="901.21" stroke-width="1"/>
<line x1="565.34" y1="901.21" x2="566.95" y2="911.08" stroke-width="1.75"/>
<line x1="545.16" y1="897.44" x2="545.89" y2="903.9" stroke-width="1"/>
<line x1="545.89" y1="903.9" x2="547.02" y2="913.84" stroke-width="1.75"/>
<line x1="537.83" y1="898.21" x2="538.45" y2="904.68" stroke-width="1"/>
<line x1="538.45" y1="904.68" x2="539.39" y2="914.63" stroke-width="1.75"/>
<line x1="530.49" y1="898.84" x2="530.99" y2="905.32" stroke-width="1"/>
<line x1="530.99" y1="905.32" x2="531.75" y2="915.29" stroke-width="1.75"/>
<line x1="523.15" y1="899.33" x2="523.52" y2="905.82" stroke-width="1"/>
<line x1="523.52" y1="905.82" x2="524.1" y2="915.8" stroke-width="1.75"/>
<line x1="515.79" y1="899.69" x2="516.05" y2="906.18" stroke-width="1"/>
<line x1="516.05" y1="906.18" x2="516.44" y2="916.18" stroke-width="1.75"/>
<line x1="508.43" y1="899.91" x2="508.56" y2="906.41" stroke-width="1"/>
<line x1="508.56" y1="906.41" x2="508.78" y2="916.41" stroke-width="1.75"/>
<line x1="501.06" y1="900" x2="501.08" y2="906.5" stroke-width="1"/>
<line x1="501.08" y1="906.5" x2="501.11" y2="916.5" stroke-width="1.75"/>
<line x1="493.7" y1="899.95" x2="493.6" y2="906.45" stroke-width="1"/>
<line x1="493.6" y1="906.45" x2="493.44" y2="916.45" stroke-width="1.75"/>
<line x1="486.33" y1="899.77" x2="486.11" y2="906.26" stroke-width="1"/>
<line x1="486.11" y1="906.26" x2="485.77" y2="916.26" stroke-width="1.75"/>
<line x1="478.98" y1="899.45" x2="478.64" y2="905.94" stroke-width="1"/>
<line x1="478.64" y1="905.94" x2="478.11" y2="915.92" stroke-width="1.75"/>
<line x1="458.1" y1="897.8" x2="457.42" y2="904.26" stroke-width="1"/>
<line x1="457.42" y1="904.26" x2="456.37" y2="914.21" stroke-width="1.75"/>
<line x1="450.78" y1="896.96" x2="449.98" y2="903.41" stroke-width="1"/>
<line x1="449.98" y1="903.41" x2="448.75" y2="913.33" stroke-width="1.75"/>
<line x1="443.48" y1="895.99" x2="442.56" y2="902.42" stroke-width="1"/>
<line x1="442.56" y1="902.42" x2="441.15" y2="912.32" stroke-width="1.75"/>
<line x1="436.2" y1="894.88" x2="435.16" y2="901.3" stroke-width="1"/>
<line x1="435.16" y1="901.3" x2="433.57" y2="911.17" stroke-width="1.75"/>
<line x1="428.94" y1="893.64" x2="427.78" y2="900.03" stroke-width="1"/>
<line x1="427.78" y1="900.03" x2="426.01" y2="909.87" stroke-width="1.75"/>
<line x1="421.7" y1="892.26" x2="420.43" y2="898.64" stroke-width="1"/>
<line x1="420.43" y1="898.64" x2="418.47" y2="908.44" stroke-width="1.75"/>
<line x1="414.49" y1="890.75" x2="413.11" y2="897.1" stroke-width="1"/>
<line x1="413.11" y1="897.1" x2="410.97" y2="906.87" stroke-width="1.75"/>
<line x1="407.31" y1="889.11" x2="405.81" y2="895.44" stroke-width="1"/>
<line x1="405.81" y1="895.44" x2="403.49" y2="905.16" stroke-width="1.75"/>
<line x1="400.17" y1="887.34" x2="398.54" y2="893.64" stroke-width="1"/>
<line x1="398.54" y1="893.64" x2="396.05" y2="903.32" stroke-width="1.75"/>
<line x1="378.43" y1="881.08" x2="376.45" y2="887.27" stroke-width="1"/>
<line x1="376.45" y1="887.27" x2="373.41" y2="896.8" stroke-width="1.75"/>
<line x1="371.43" y1="878.77" x2="369.34" y2="884.93" stroke-width="1"/>
<line x1="369.34" y1="884.93" x2="366.13" y2="894.4" stroke-width="1.75"/>
<line x1="364.48" y1="876.34" x2="362.28" y2="882.46" stroke-width="1"/>
<line x1="362.28" y1="882.46" x2="358.89" y2="891.87" stroke-width="1.75"/>
<line x1="357.57" y1="873.78" x2="355.26" y2="879.86" stroke-width="1"/>
<line x1="355.26" y1="879.86" x2="351.7" y2="889.2" stroke-width="1.75"/>
<line x1="350.72" y1="871.1" x2="348.29" y2="877.13" stroke-width="1"/>
<line x1="348.29" y1="877.13" x2="344.56" y2="886.41" stroke-width="1.75"/>
<line x1="343.91" y1="868.29" x2="341.37" y2="874.27" stroke-width="1"/>
<line x1="341.37" y1="874.27" x2="337.47" y2="883.48" stroke-width="1.75"/>
<line x1="323.51" y1="858.96" x2="320.64" y2="864.79" stroke-width="1"/>
<line x1="320.64" y1="864.79" x2="316.23" y2="873.77" stroke-width="1.75"/>
<line x1="316.93" y1="855.65" x2="313.96" y2="861.43" stroke-width="1"/>
<line x1="313.96" y1="861.43" x2="309.38" y2="870.32" stroke-width="1.75"/>
<line x1="310.42" y1="852.22" x2="307.33" y2="857.94" stroke-width="1"/>
<line x1="307.33" y1="857.94" x2="302.6" y2="866.75" stroke-width="1.75"/>
<line x1="303.96" y1="848.67" x2="300.78" y2="854.33" stroke-width="1"/>
<line x1="300.78" y1="854.33" x2="295.88" y2="863.05" stroke-width="1.75"/>
<line x1="297.58" y1="845" x2="294.29" y2="850.61" stroke-width="1"/>
<line x1="294.29" y1="850.61" x2="289.23" y2="859.23" stroke-width="1.75"/>
<line x1="291.26" y1="841.21" x2="287.87" y2="846.76" stroke-width="1"/>
<line x1="287.87" y1="846.76" x2="282.65" y2="855.29" stroke-width="1.75"/>
<line x1="285.01" y1="837.31" x2="281.52" y2="842.79" stroke-width="1"/>
<line x1="281.52" y1="842.79" x2="276.14" y2="851.23" stroke-width="1.75"/>
<line x1="278.84" y1="833.3" x2="275.24" y2="838.71" stroke-width="1"/>
<line x1="275.24" y1="838.71" x2="269.71" y2="847.05" stroke-width="1.75"/>
<line x1="272.74" y1="829.17" x2="269.04" y2="834.52" stroke-width="1"/>
<line x1="269.04" y1="834.52" x2="263.36" y2="842.75" stroke-width="1.75"/>
<line x1="266.72" y1="824.93" x2="262.92" y2="830.21" stroke-width="1"/>
<line x1="262.92" y1="830.21" x2="257.09" y2="838.33" stroke-width="1.75"/>
<line x1="260.77" y1="820.58" x2="256.88" y2="825.79" stroke-width="1"/>
<line x1="256.88" y1="825.79" x2="250.9" y2="833.8" stroke-width="1.75"/>
<line x1="254.91" y1="816.12" x2="250.93" y2="821.26" stroke-width="1"/>
<line x1="250.93" y1="821.26" x2="244.8" y2="829.16" stroke-width="1.75"/>
<line x1="249.13" y1="811.55" x2="245.05" y2="816.62" stroke-width="1"/>
<line x1="245.05" y1="816.62" x2="238.78" y2="824.4" stroke-width="1.75"/>
<line x1="243.44" y1="806.88" x2="239.27" y2="811.87" stroke-width="1"/>
<line x1="239.27" y1="811.87" x2="232.85" y2="819.54" stroke-width="1.75"/>
<line x1="226.12" y1="791.53" x2="221.67" y2="796.27" stroke-width="1"/>
<line x1="221.67" y1="796.27" x2="214.82" y2="803.56" stroke-width="1.75"/>
<line x1="220.8" y1="786.44" x2="216.26" y2="791.09" stroke-width="1"/>
<line x1="216.26" y1="791.09" x2="209.28" y2="798.25" stroke-width="1.75"/>
<line x1="215.57" y1="781.25" x2="210.95" y2="785.82" stroke-width="1"/>
<line x1="210.95" y1="785.82" x2="203.84" y2="792.85" stroke-width="1.75"/>
<line x1="210.44" y1="775.96" x2="205.74" y2="780.45" stroke-width="1"/>
<line x1="205.74" y1="780.45" x2="198.5" y2="787.35" stroke-width="1.75"/>
<line x1="205.41" y1="770.59" x2="200.62" y2="774.98" stroke-width="1"/>
<line x1="200.62" y1="774.98" x2="193.26" y2="781.75" stroke-width="1.75"/>
<line x1="200.48" y1="765.12" x2="195.61" y2="769.42" stroke-width="1"/>
<line x1="195.61" y1="769.42" x2="188.12" y2="776.05" stroke-width="1.75"/>
<line x1="195.65" y1="759.56" x2="190.7" y2="763.77" stroke-width="1"/>
<line x1="190.7" y1="763.77" x2="183.09" y2="770.26" stroke-width="1.75"/>
<line x1="190.92" y1="753.91" x2="185.9" y2="758.03" stroke-width="1"/>
<line x1="185.9" y1="758.03" x2="178.17" y2="764.38" stroke-width="1.75"/>
<line x1="186.3" y1="748.17" x2="181.2" y2="752.21" stroke-width="1"/>
<line x1="181.2" y1="752.21" x2="173.36" y2="758.41" stroke-width="1.75"/>
<line x1="181.78" y1="742.36" x2="176.61" y2="746.29" stroke-width="1"/>
<line x1="176.61" y1="746.29" x2="168.65" y2="752.35" stroke-width="1.75"/>
<line x1="177.37" y1="736.46" x2="172.13" y2="740.3" stroke-width="1"/>
<line x1="172.13" y1="740.3" x2="164.06" y2="746.21" stroke-width="1.75"/>
<line x1="173.07" y1="730.48" x2="167.76" y2="734.22" stroke-width="1"/>
<line x1="167.76" y1="734.22" x2="159.59" y2="739.98" stroke-width="1.75"/>
<line x1="168.89" y1="724.42" x2="163.5" y2="728.06" stroke-width="1"/>
<line x1="163.5" y1="728.06" x2="155.23" y2="733.67" stroke-width="1.75"/>
<line x1="156.34" y1="704.68" x2="150.75" y2="708.01" stroke-width="1"/>
<line x1="150.75" y1="708.01" x2="142.16" y2="713.13" stroke-width="1.75"/>
<line x1="152.63" y1="698.32" x2="146.98" y2="701.54" stroke-width="1"/>
<line x1="146.98" y1="701.54" x2="138.3" y2="706.5" stroke-width="1.75"/>
<line x1="149.03" y1="691.89" x2="143.33" y2="695.01" stroke-width="1"/>
<line x1="143.33" y1="695.01" x2="134.56" y2="699.81" stroke-width="1.75"/>
<line x1="145.56" y1="685.4" x2="139.8" y2="688.41" stroke-width="1"/>
<line x1="139.8" y1="688.41" x2="130.94" y2="693.04" stroke-width="1.75"/>
<line x1="142.21" y1="678.84" x2="136.39" y2="681.74" stroke-width="1"/>
<line x1="136.39" y1="681.74" x2="127.45" y2="686.22" stroke-width="1.75"/>
<line x1="138.97" y1="672.22" x2="133.11" y2="675.02" stroke-width="1"/>
<line x1="133.11" y1="675.02" x2="124.08" y2="679.32" stroke-width="1.75"/>
<line x1="135.86" y1="665.54" x2="129.95" y2="668.23" stroke-width="1"/>
<line x1="129.95" y1="668.23" x2="120.84" y2="672.37" stroke-width="1.75"/>
<line x1="132.88" y1="658.81" x2="126.91" y2="661.39" stroke-width="1"/>
<line x1="126.91" y1="661.39" x2="117.73" y2="665.36" stroke-width="1.75"/>
<line x1="130.02" y1="652.02" x2="124" y2="654.5" stroke-width="1"/>
<line x1="124" y1="654.5" x2="114.75" y2="658.3" stroke-width="1.75"/>
<line x1="127.28" y1="645.19" x2="121.22" y2="647.55" stroke-width="1"/>
<line x1="121.22" y1="647.55" x2="111.9" y2="651.18" stroke-width="1.75"/>
<line x1="124.67" y1="638.3" x2="118.57" y2="640.55" stroke-width="1"/>
<line x1="118.57" y1="640.55" x2="109.19" y2="644" stroke-width="1.75"/>
<line x1="116.94" y1="615.18" x2="110.72" y2="617.05" stroke-width="1"/>
<line x1="110.72" y1="617.05" x2="101.14" y2="619.93" stroke-width="1.75"/>
<line x1="114.89" y1="608.11" x2="108.63" y2="609.87" stroke-width="1"/>
<line x1="108.63" y1="609.87" x2="99" y2="612.57" stroke-width="1.75"/>
<line x1="112.96" y1="601" x2="106.67" y2="602.64" stroke-width="1"/>
<line x1="106.67" y1="602.64" x2="97" y2="605.17" stroke-width="1.75"/>
<line x1="111.17" y1="593.86" x2="104.85" y2="595.38" stroke-width="1"/>
<line x1="104.85" y1="595.38" x2="95.13" y2="597.73" stroke-width="1.75"/>
<line x1="109.51" y1="586.68" x2="103.16" y2="588.09" stroke-width="1"/>
<line x1="103.16" y1="588.09" x2="93.4" y2="590.26" stroke-width="1.75"/>
<line x1="107.98" y1="579.48" x2="101.61" y2="580.77" stroke-width="1"/>
<line x1="101.61" y1="580.77" x2="91.8" y2="582.76" stroke-width="1.75"/>
<line x1="106.58" y1="572.25" x2="100.19" y2="573.42" stroke-width="1"/>
<line x1="100.19" y1="573.42" x2="90.35" y2="575.23" stroke-width="1.75"/>
<line x1="105.32" y1="564.99" x2="98.9" y2="566.05" stroke-width="1"/>
<line x1="98.9" y1="566.05" x2="89.03" y2="567.67" stroke-width="1.75"/>
<line x1="104.19" y1="557.71" x2="97.75" y2="558.65" stroke-width="1"/>
<line x1="97.75" y1="558.65" x2="87.86" y2="560.09" stroke-width="1.75"/>
<line x1="103.19" y1="550.42" x2="96.74" y2="551.23" stroke-width="1"/>
<line x1="96.74" y1="551.23" x2="86.82" y2="552.5" stroke-width="1.75"/>
<line x1="102.33" y1="543.1" x2="95.87" y2="543.8" stroke-width="1"/>
<line x1="95.87" y1="543.8" x2="85.92" y2="544.88" stroke-width="1.75"/>
<line x1="101.6" y1="535.77" x2="95.13" y2="536.35" stroke-width="1"/>
<line x1="95.13" y1="536.35" x2="85.17" y2="537.25" stroke-width="1.75"/>
<line x1="101.01" y1="528.43" x2="94.53" y2="528.89" stroke-width="1"/>
<line x1="94.53" y1="528.89" x2="84.55" y2="529.6" stroke-width="1.75"/>
<line x1="100.56" y1="521.08" x2="94.06" y2="521.42" stroke-width="1"/>
<line x1="94.06" y1="521.42" x2="84.08" y2="521.95" stroke-width="1.75"/>
<line x1="100.24" y1="513.72" x2="93.74" y2="513.94" stroke-width="1"/>
<line x1="93.74" y1="513.94" x2="83.75" y2="514.29" stroke-width="1.75"/>
<line x1="100.05" y1="506.36" x2="93.55" y2="506.46" stroke-width="1"/>
<line x1="93.55" y1="506.46" x2="83.55" y2="506.62" stroke-width="1.75"/>
<line x1="100" y1="498.99" x2="93.5" y2="498.98" stroke-width="1"/>
<line x1="93.5" y1="498.98" x2="83.5" y2="498.95" stroke-width="1.75"/>
<line x1="100.09" y1="491.63" x2="93.59" y2="491.49" stroke-width="1"/>
<line x1="93.59" y1="491.49" x2="83.59" y2="491.28" stroke-width="1.75"/>
<line x1="100.31" y1="484.27" x2="93.81" y2="484.01" stroke-width="1"/>
<line x1="93.81" y1="484.01" x2="83.82" y2="483.62" stroke-width="1.75"/>
<line x1="100.67" y1="476.91" x2="94.18" y2="476.53" stroke-width="1"/>
<line x1="94.18" y1="476.53" x2="84.19" y2="475.96" stroke-width="1.75"/>
<line x1="101.16" y1="469.56" x2="94.68" y2="469.07" stroke-width="1"/>
<line x1="94.68" y1="469.07" x2="84.71" y2="468.31" stroke-width="1.75"/>
<line x1="101.79" y1="462.22" x2="95.32" y2="461.61" stroke-width="1"/>
<line x1="95.32" y1="461.61" x2="85.36" y2="460.66" stroke-width="1.75"/>
<line x1="102.55" y1="454.9" x2="96.09" y2="454.16" stroke-width="1"/>
<line x1="96.09" y1="454.16" x2="86.16" y2="453.04" stroke-width="1.75"/>
<line x1="103.45" y1="447.59" x2="97" y2="446.74" stroke-width="1"/>
<line x1="97" y1="446.74" x2="87.09" y2="445.43" stroke-width="1.75"/>
<line x1="107.77" y1="421.57" x2="101.39" y2="420.29" stroke-width="1"/>
<line x1="101.39" y1="420.29" x2="91.59" y2="418.33" stroke-width="1.75"/>
<line x1="109.28" y1="414.36" x2="102.93" y2="412.96" stroke-width="1"/>
<line x1="102.93" y1="412.96" x2="93.16" y2="410.82" stroke-width="1.75"/>
<line x1="110.92" y1="407.18" x2="104.6" y2="405.67" stroke-width="1"/>
<line x1="104.6" y1="405.67" x2="94.87" y2="403.35" stroke-width="1.75"/>
<line x1="112.69" y1="400.03" x2="106.4" y2="398.4" stroke-width="1"/>
<line x1="106.4" y1="398.4" x2="96.72" y2="395.9" stroke-width="1.75"/>
<line x1="114.6" y1="392.91" x2="108.34" y2="391.17" stroke-width="1"/>
<line x1="108.34" y1="391.17" x2="98.7" y2="388.5" stroke-width="1.75"/>
<line x1="116.64" y1="385.84" x2="110.41" y2="383.98" stroke-width="1"/>
<line x1="110.41" y1="383.98" x2="100.82" y2="381.13" stroke-width="1.75"/>
<line x1="118.8" y1="378.8" x2="112.61" y2="376.83" stroke-width="1"/>
<line x1="112.61" y1="376.83" x2="103.08" y2="373.8" stroke-width="1.75"/>
<line x1="121.1" y1="371.8" x2="114.94" y2="369.72" stroke-width="1"/>
<line x1="114.94" y1="369.72" x2="105.47" y2="366.51" stroke-width="1.75"/>
<line x1="129.09" y1="350.24" x2="123.07" y2="347.8" stroke-width="1"/>
<line x1="123.07" y1="347.8" x2="113.79" y2="344.06" stroke-width="1.75"/>
<line x1="131.91" y1="343.43" x2="125.93" y2="340.89" stroke-width="1"/>
<line x1="125.93" y1="340.89" x2="116.73" y2="336.98" stroke-width="1.75"/>
<line x1="134.86" y1="336.68" x2="128.93" y2="334.03" stroke-width="1"/>
<line x1="128.93" y1="334.03" x2="119.8" y2="329.95" stroke-width="1.75"/>
<line x1="137.93" y1="329.99" x2="132.04" y2="327.23" stroke-width="1"/>
<line x1="132.04" y1="327.23" x2="122.99" y2="322.98" stroke-width="1.75"/>
<line x1="141.12" y1="323.35" x2="135.29" y2="320.48" stroke-width="1"/>
<line x1="135.29" y1="320.48" x2="126.32" y2="316.06" stroke-width="1.75"/>
<line x1="144.43" y1="316.77" x2="138.66" y2="313.8" stroke-width="1"/>
<line x1="138.66" y1="313.8" x2="129.77" y2="309.21" stroke-width="1.75"/>
<line x1="147.87" y1="310.26" x2="142.14" y2="307.17" stroke-width="1"/>
<line x1="142.14" y1="307.17" x2="133.34" y2="302.43" stroke-width="1.75"/>
<line x1="151.42" y1="303.81" x2="145.76" y2="300.62" stroke-width="1"/>
<line x1="145.76" y1="300.62" x2="137.04" y2="295.71" stroke-width="1.75"/>
<line x1="155.09" y1="297.42" x2="149.49" y2="294.13" stroke-width="1"/>
<line x1="149.49" y1="294.13" x2="140.86" y2="289.06" stroke-width="1.75"/>
<line x1="158.88" y1="291.1" x2="153.34" y2="287.71" stroke-width="1"/>
<line x1="153.34" y1="287.71" x2="144.81" y2="282.49" stroke-width="1.75"/>
<line x1="162.78" y1="284.86" x2="157.3" y2="281.36" stroke-width="1"/>
<line x1="157.3" y1="281.36" x2="148.87" y2="275.98" stroke-width="1.75"/>
<line x1="174.49" y1="267.53" x2="169.2" y2="263.75" stroke-width="1"/>
<line x1="169.2" y1="263.75" x2="161.06" y2="257.94" stroke-width="1.75"/>
<line x1="178.83" y1="261.57" x2="173.61" y2="257.7" stroke-width="1"/>
<line x1="173.61" y1="257.7" x2="165.58" y2="251.74" stroke-width="1.75"/>
<line x1="183.27" y1="255.7" x2="178.12" y2="251.73" stroke-width="1"/>
<line x1="178.12" y1="251.73" x2="170.2" y2="245.62" stroke-width="1.75"/>
<line x1="187.82" y1="249.91" x2="182.75" y2="245.85" stroke-width="1"/>
<line x1="182.75" y1="245.85" x2="174.94" y2="239.59" stroke-width="1.75"/>
<line x1="192.48" y1="244.21" x2="187.48" y2="240.05" stroke-width="1"/>
<line x1="187.48" y1="240.05" x2="179.79" y2="233.65" stroke-width="1.75"/>
<line x1="197.24" y1="238.59" x2="192.32" y2="234.34" stroke-width="1"/>
<line x1="192.32" y1="234.34" x2="184.75" y2="227.8" stroke-width="1.75"/>
<line x1="202.11" y1="233.06" x2="197.26" y2="228.72" stroke-width="1"/>
<line x1="197.26" y1="228.72" x2="189.82" y2="222.05" stroke-width="1.75"/>
<line x1="218.44" y1="215.88" x2="213.87" y2="211.26" stroke-width="1"/>
<line x1="213.87" y1="211.26" x2="206.83" y2="204.16" stroke-width="1.75"/>
<line x1="223.72" y1="210.74" x2="219.23" y2="206.04" stroke-width="1"/>
<line x1="219.23" y1="206.04" x2="212.33" y2="198.81" stroke-width="1.75"/>
<line x1="229.1" y1="205.7" x2="224.69" y2="200.92" stroke-width="1"/>
<line x1="224.69" y1="200.92" x2="217.92" y2="193.56" stroke-width="1.75"/>
<line x1="234.56" y1="200.76" x2="230.25" y2="195.9" stroke-width="1"/>
<line x1="230.25" y1="195.9" x2="223.61" y2="188.42" stroke-width="1.75"/>
<line x1="240.11" y1="195.93" x2="235.89" y2="190.99" stroke-width="1"/>
<line x1="235.89" y1="190.99" x2="229.39" y2="183.39" stroke-width="1.75"/>
<line x1="245.76" y1="191.19" x2="241.63" y2="186.18" stroke-width="1"/>
<line x1="241.63" y1="186.18" x2="235.27" y2="178.46" stroke-width="1.75"/>
<line x1="251.49" y1="186.57" x2="247.45" y2="181.47" stroke-width="1"/>
<line x1="247.45" y1="181.47" x2="241.23" y2="173.64" stroke-width="1.75"/>
<line x1="257.3" y1="182.04" x2="253.36" y2="176.88" stroke-width="1"/>
<line x1="253.36" y1="176.88" x2="247.29" y2="168.93" stroke-width="1.75"/>
<line x1="263.19" y1="177.63" x2="259.35" y2="172.39" stroke-width="1"/>
<line x1="259.35" y1="172.39" x2="253.43" y2="164.33" stroke-width="1.75"/>
<line x1="269.17" y1="173.32" x2="265.42" y2="168.01" stroke-width="1"/>
<line x1="265.42" y1="168.01" x2="259.65" y2="159.85" stroke-width="1.75"/>
<line x1="275.22" y1="169.13" x2="271.57" y2="163.75" stroke-width="1"/>
<line x1="271.57" y1="163.75" x2="265.95" y2="155.48" stroke-width="1.75"/>
<line x1="281.35" y1="165.05" x2="277.8" y2="159.6" stroke-width="1"/>
<line x1="277.8" y1="159.6" x2="272.34" y2="151.23" stroke-width="1.75"/>
<line x1="287.56" y1="161.08" x2="284.11" y2="155.57" stroke-width="1"/>
<line x1="284.11" y1="155.57" x2="278.8" y2="147.1" stroke-width="1.75"/>
<line x1="293.84" y1="157.22" x2="290.49" y2="151.65" stroke-width="1"/>
<line x1="290.49" y1="151.65" x2="285.33" y2="143.08" stroke-width="1.75"/>
<line x1="300.18" y1="153.49" x2="296.93" y2="147.85" stroke-width="1"/>
<line x1="296.93" y1="147.85" x2="291.94" y2="139.19" stroke-width="1.75"/>
<line x1="306.6" y1="149.86" x2="303.45" y2="144.18" stroke-width="1"/>
<line x1="303.45" y1="144.18" x2="298.62" y2="135.42" stroke-width="1.75"/>
<line x1="313.07" y1="146.36" x2="310.04" y2="140.62" stroke-width="1"/>
<line x1="310.04" y1="140.62" x2="305.36" y2="131.78" stroke-width="1.75"/>
<line x1="319.62" y1="142.98" x2="316.69" y2="137.18" stroke-width="1"/>
<line x1="316.69" y1="137.18" x2="312.18" y2="128.25" stroke-width="1.75"/>
<line x1="326.22" y1="139.72" x2="323.4" y2="133.87" stroke-width="1"/>
<line x1="323.4" y1="133.87" x2="319.05" y2="124.86" stroke-width="1.75"/>
<line x1="332.88" y1="136.58" x2="330.17" y2="130.68" stroke-width="1"/>
<line x1="330.17" y1="130.68" x2="325.99" y2="121.59" stroke-width="1.75"/>
<line x1="339.6" y1="133.57" x2="337" y2="127.61" stroke-width="1"/>
<line x1="337" y1="127.61" x2="332.99" y2="118.45" stroke-width="1.75"/>
<line x1="360.38" y1="125.16" x2="358.11" y2="119.07" stroke-width="1"/>
<line x1="358.11" y1="119.07" x2="354.62" y2="109.7" stroke-width="1.75"/>
<line x1="367.31" y1="122.65" x2="365.15" y2="116.52" stroke-width="1"/>
<line x1="365.15" y1="116.52" x2="361.83" y2="107.09" stroke-width="1.75"/>
<line x1="374.28" y1="120.27" x2="372.23" y2="114.1" stroke-width="1"/>
<line x1="372.23" y1="114.1" x2="369.09" y2="104.61" stroke-width="1.75"/>
<line x1="381.29" y1="118.02" x2="379.36" y2="111.81" stroke-width="1"/>
<line x1="379.36" y1="111.81" x2="376.39" y2="102.26" stroke-width="1.75"/>
<line x1="388.34" y1="115.9" x2="386.53" y2="109.66" stroke-width="1"/>
<line x1="386.53" y1="109.66" x2="383.74" y2="100.06" stroke-width="1.75"/>
<line x1="395.43" y1="113.91" x2="393.73" y2="107.64" stroke-width="1"/>
<line x1="393.73" y1="107.64" x2="391.12" y2="97.98" stroke-width="1.75"/>
<line x1="402.56" y1="112.05" x2="400.98" y2="105.75" stroke-width="1"/>
<line x1="400.98" y1="105.75" x2="398.54" y2="96.05" stroke-width="1.75"/>
<line x1="409.72" y1="110.32" x2="408.25" y2="103.99" stroke-width="1"/>
<line x1="408.25" y1="103.99" x2="405.99" y2="94.25" stroke-width="1.75"/>
<line x1="416.91" y1="108.73" x2="415.56" y2="102.37" stroke-width="1"/>
<line x1="415.56" y1="102.37" x2="413.48" y2="92.59" stroke-width="1.75"/>
<line x1="424.13" y1="107.26" x2="422.89" y2="100.88" stroke-width="1"/>
<line x1="422.89" y1="100.88" x2="421" y2="91.06" stroke-width="1.75"/>
<line x1="431.37" y1="105.93" x2="430.26" y2="99.53" stroke-width="1"/>
<line x1="430.26" y1="99.53" x2="428.54" y2="89.68" stroke-width="1.75"/>
<line x1="438.64" y1="104.73" x2="437.64" y2="98.31" stroke-width="1"/>
<line x1="437.64" y1="98.31" x2="436.11" y2="88.43" stroke-width="1.75"/>
<line x1="445.93" y1="103.67" x2="445.05" y2="97.23" stroke-width="1"/>
<line x1="445.05" y1="97.23" x2="443.7" y2="87.32" stroke-width="1.75"/>
<line x1="453.23" y1="102.74" x2="452.47" y2="96.29" stroke-width="1"/>
<line x1="452.47" y1="96.29" x2="451.3" y2="86.36" stroke-width="1.75"/>
<line x1="460.56" y1="101.95" x2="459.91" y2="95.48" stroke-width="1"/>
<line x1="459.91" y1="95.48" x2="458.93" y2="85.53" stroke-width="1.75"/>
<line x1="467.89" y1="101.29" x2="467.37" y2="94.81" stroke-width="1"/>
<line x1="467.37" y1="94.81" x2="466.57" y2="84.84" stroke-width="1.75"/>
<line x1="475.24" y1="100.77" x2="474.84" y2="94.28" stroke-width="1"/>
<line x1="474.84" y1="94.28" x2="474.22" y2="84.3" stroke-width="1.75"/>
<line x1="482.59" y1="100.38" x2="482.31" y2="93.89" stroke-width="1"/>
<line x1="482.31" y1="93.89" x2="481.87" y2="83.89" stroke-width="1.75"/>
</g>
<g id="tlab" font-family="'Liberation Serif', serif" font-size="17.2" letter-spacing="1.4" fill="#000" stroke="#000" stroke-width="0.2">
<text transform="translate(504.59 79.03) rotate(-89.38) scale(0.92 1)" dy="3.11">100</text>
<text transform="translate(512.34 79.18) rotate(-88.32) scale(0.92 1)" dy="3.11">200</text>
<text transform="translate(520.09 79.48) rotate(-87.27) scale(0.92 1)" dy="3.11">300</text>
<text transform="translate(527.83 79.92) rotate(-86.21) scale(0.92 1)" dy="3.11">400</text>
<text transform="translate(535.56 80.5) rotate(-85.16) scale(0.92 1)" dy="3.11">500</text>
<text transform="translate(543.27 81.23) rotate(-84.1) scale(0.92 1)" dy="3.11">600</text>
<text transform="translate(550.98 82.1) rotate(-83.05) scale(0.92 1)" dy="3.11">700</text>
<text transform="translate(558.66 83.11) rotate(-81.99) scale(0.92 1)" dy="3.11">800</text>
<text transform="translate(566.33 84.26) rotate(-80.94) scale(0.92 1)" dy="3.11">900</text>
<text transform="translate(573.97 85.55) rotate(-79.88) scale(0.92 1)" dy="3.11">1000</text>
<text transform="translate(581.59 86.98) rotate(-78.83) scale(0.92 1)" dy="3.11">1100</text>
<text transform="translate(589.18 88.55) rotate(-77.77) scale(0.92 1)" dy="3.11">1200</text>
<text transform="translate(611.44 94.02) rotate(-74.65) scale(0.92 1)" dy="3.11">100</text>
<text transform="translate(618.9 96.14) rotate(-73.59) scale(0.92 1)" dy="3.11">200</text>
<text transform="translate(626.32 98.4) rotate(-72.54) scale(0.92 1)" dy="3.11">300</text>
<text transform="translate(633.69 100.79) rotate(-71.48) scale(0.92 1)" dy="3.11">400</text>
<text transform="translate(641.02 103.32) rotate(-70.43) scale(0.92 1)" dy="3.11">500</text>
<text transform="translate(648.3 105.98) rotate(-69.38) scale(0.92 1)" dy="3.11">600</text>
<text transform="translate(655.53 108.78) rotate(-68.32) scale(0.92 1)" dy="3.11">700</text>
<text transform="translate(662.7 111.71) rotate(-67.27) scale(0.92 1)" dy="3.11">800</text>
<text transform="translate(669.83 114.77) rotate(-66.21) scale(0.92 1)" dy="3.11">900</text>
<text transform="translate(676.89 117.96) rotate(-65.16) scale(0.92 1)" dy="3.11">1000</text>
<text transform="translate(698.85 128.92) rotate(-61.81) scale(0.92 1)" dy="3.11">100</text>
<text transform="translate(705.65 132.65) rotate(-60.76) scale(0.92 1)" dy="3.11">200</text>
<text transform="translate(724.29 143.72) rotate(-57.81) scale(0.92 1)" dy="3.11">100</text>
<text transform="translate(730.81 147.91) rotate(-56.75) scale(0.92 1)" dy="3.11">200</text>
<text transform="translate(737.25 152.22) rotate(-55.7) scale(0.92 1)" dy="3.11">300</text>
<text transform="translate(743.62 156.65) rotate(-54.64) scale(0.92 1)" dy="3.11">400</text>
<text transform="translate(749.9 161.19) rotate(-53.59) scale(0.92 1)" dy="3.11">500</text>
<text transform="translate(756.09 165.85) rotate(-52.53) scale(0.92 1)" dy="3.11">600</text>
<text transform="translate(762.2 170.62) rotate(-51.48) scale(0.92 1)" dy="3.11">700</text>
<text transform="translate(768.22 175.5) rotate(-50.42) scale(0.92 1)" dy="3.11">800</text>
<text transform="translate(774.15 180.5) rotate(-49.37) scale(0.92 1)" dy="3.11">900</text>
<text transform="translate(779.99 185.6) rotate(-48.31) scale(0.92 1)" dy="3.11">1000</text>
<text transform="translate(785.73 190.81) rotate(-47.26) scale(0.92 1)" dy="3.11">1100</text>
<text transform="translate(791.37 196.12) rotate(-46.2) scale(0.92 1)" dy="3.11">1200</text>
<text transform="translate(796.92 201.54) rotate(-45.15) scale(0.92 1)" dy="3.11">1300</text>
<text transform="translate(802.36 207.05) rotate(-44.09) scale(0.92 1)" dy="3.11">1400</text>
<text transform="translate(807.71 212.67) rotate(-43.04) scale(0.92 1)" dy="3.11">1500</text>
<text transform="translate(812.94 218.38) rotate(-41.98) scale(0.92 1)" dy="3.11">1600</text>
<text transform="translate(828.18 236.3) rotate(-38.78) scale(0.92 1)" dy="3.11">100</text>
<text transform="translate(832.98 242.38) rotate(-37.73) scale(0.92 1)" dy="3.11">200</text>
<text transform="translate(837.67 248.56) rotate(-36.67) scale(0.92 1)" dy="3.11">300</text>
<text transform="translate(842.24 254.82) rotate(-35.62) scale(0.92 1)" dy="3.11">400</text>
<text transform="translate(846.69 261.16) rotate(-34.56) scale(0.92 1)" dy="3.11">500</text>
<text transform="translate(851.03 267.59) rotate(-33.51) scale(0.92 1)" dy="3.11">600</text>
<text transform="translate(855.25 274.09) rotate(-32.45) scale(0.92 1)" dy="3.11">700</text>
<text transform="translate(859.35 280.67) rotate(-31.4) scale(0.92 1)" dy="3.11">800</text>
<text transform="translate(863.33 287.32) rotate(-30.34) scale(0.92 1)" dy="3.11">900</text>
<text transform="translate(867.18 294.05) rotate(-29.29) scale(0.92 1)" dy="3.11">1000</text>
<text transform="translate(870.91 300.84) rotate(-28.23) scale(0.92 1)" dy="3.11">1100</text>
<text transform="translate(874.52 307.71) rotate(-27.18) scale(0.92 1)" dy="3.11">1200</text>
<text transform="translate(878 314.63) rotate(-26.12) scale(0.92 1)" dy="3.11">1300</text>
<text transform="translate(887.71 335.93) rotate(-22.94) scale(0.92 1)" dy="3.11">100</text>
<text transform="translate(890.67 343.09) rotate(-21.88) scale(0.92 1)" dy="3.11">200</text>
<text transform="translate(893.49 350.31) rotate(-20.83) scale(0.92 1)" dy="3.11">300</text>
<text transform="translate(896.18 357.58) rotate(-19.77) scale(0.92 1)" dy="3.11">400</text>
<text transform="translate(898.73 364.9) rotate(-18.72) scale(0.92 1)" dy="3.11">500</text>
<text transform="translate(901.15 372.27) rotate(-17.66) scale(0.92 1)" dy="3.11">600</text>
<text transform="translate(903.44 379.67) rotate(-16.61) scale(0.92 1)" dy="3.11">700</text>
<text transform="translate(905.59 387.12) rotate(-15.55) scale(0.92 1)" dy="3.11">800</text>
<text transform="translate(907.6 394.61) rotate(-14.5) scale(0.92 1)" dy="3.11">900</text>
<text transform="translate(909.47 402.13) rotate(-13.44) scale(0.92 1)" dy="3.11">1000</text>
<text transform="translate(914.75 427.7) rotate(-9.89) scale(0.92 1)" dy="3.11">100</text>
<text transform="translate(916.01 435.35) rotate(-8.83) scale(0.92 1)" dy="3.11">200</text>
<text transform="translate(917.13 443.02) rotate(-7.78) scale(0.92 1)" dy="3.11">300</text>
<text transform="translate(918.1 450.71) rotate(-6.72) scale(0.92 1)" dy="3.11">400</text>
<text transform="translate(918.94 458.41) rotate(-5.67) scale(0.92 1)" dy="3.11">500</text>
<text transform="translate(919.64 466.14) rotate(-4.61) scale(0.92 1)" dy="3.11">600</text>
<text transform="translate(920.19 473.87) rotate(-3.56) scale(0.92 1)" dy="3.11">700</text>
<text transform="translate(920.6 481.61) rotate(-2.5) scale(0.92 1)" dy="3.11">800</text>
<text transform="translate(920.87 489.36) rotate(-1.45) scale(0.92 1)" dy="3.11">900</text>
<text transform="translate(920.99 497.11) rotate(-0.39) scale(0.92 1)" dy="3.11">1000</text>
<text transform="translate(920.97 504.86) rotate(0.66) scale(0.92 1)" dy="3.11">1100</text>
<text transform="translate(920.81 512.61) rotate(1.72) scale(0.92 1)" dy="3.11">1200</text>
<text transform="translate(920.51 520.35) rotate(2.77) scale(0.92 1)" dy="3.11">1300</text>
<text transform="translate(920.06 528.09) rotate(3.83) scale(0.92 1)" dy="3.11">1400</text>
<text transform="translate(919.47 535.82) rotate(4.88) scale(0.92 1)" dy="3.11">1500</text>
<text transform="translate(918.74 543.54) rotate(5.94) scale(0.92 1)" dy="3.11">1600</text>
<text transform="translate(915.71 566.52) rotate(9.09) scale(0.92 1)" dy="3.11">100</text>
<text transform="translate(914.42 574.17) rotate(10.15) scale(0.92 1)" dy="3.11">200</text>
<text transform="translate(912.98 581.78) rotate(11.2) scale(0.92 1)" dy="3.11">300</text>
<text transform="translate(911.4 589.37) rotate(12.26) scale(0.92 1)" dy="3.11">400</text>
<text transform="translate(909.69 596.93) rotate(13.31) scale(0.92 1)" dy="3.11">500</text>
<text transform="translate(903.89 618.81) rotate(16.39) scale(0.92 1)" dy="3.11">100</text>
<text transform="translate(901.63 626.23) rotate(17.45) scale(0.92 1)" dy="3.11">200</text>
<text transform="translate(899.24 633.6) rotate(18.5) scale(0.92 1)" dy="3.11">300</text>
<text transform="translate(896.71 640.93) rotate(19.56) scale(0.92 1)" dy="3.11">400</text>
<text transform="translate(894.05 648.21) rotate(20.61) scale(0.92 1)" dy="3.11">500</text>
<text transform="translate(891.25 655.44) rotate(21.67) scale(0.92 1)" dy="3.11">600</text>
<text transform="translate(888.33 662.62) rotate(22.72) scale(0.92 1)" dy="3.11">700</text>
<text transform="translate(885.27 669.74) rotate(23.78) scale(0.92 1)" dy="3.11">800</text>
<text transform="translate(882.07 676.8) rotate(24.83) scale(0.92 1)" dy="3.11">900</text>
<text transform="translate(878.75 683.81) rotate(25.89) scale(0.92 1)" dy="3.11">1000</text>
<text transform="translate(875.31 690.75) rotate(26.94) scale(0.92 1)" dy="3.11">1100</text>
<text transform="translate(871.73 697.63) rotate(28) scale(0.92 1)" dy="3.11">1200</text>
<text transform="translate(859.07 719.79) rotate(31.47) scale(0.92 1)" dy="3.11">100</text>
<text transform="translate(854.97 726.36) rotate(32.53) scale(0.92 1)" dy="3.11">200</text>
<text transform="translate(850.74 732.86) rotate(33.58) scale(0.92 1)" dy="3.11">300</text>
<text transform="translate(846.39 739.28) rotate(34.64) scale(0.92 1)" dy="3.11">400</text>
<text transform="translate(841.93 745.62) rotate(35.69) scale(0.92 1)" dy="3.11">500</text>
<text transform="translate(837.35 751.87) rotate(36.75) scale(0.92 1)" dy="3.11">600</text>
<text transform="translate(832.65 758.04) rotate(37.8) scale(0.92 1)" dy="3.11">700</text>
<text transform="translate(818.37 775.47) rotate(40.87) scale(0.92 1)" dy="3.11">100</text>
<text transform="translate(813.24 781.28) rotate(41.92) scale(0.92 1)" dy="3.11">200</text>
<text transform="translate(808.01 787) rotate(42.98) scale(0.92 1)" dy="3.11">300</text>
<text transform="translate(802.67 792.63) rotate(44.03) scale(0.92 1)" dy="3.11">400</text>
<text transform="translate(797.23 798.15) rotate(45.09) scale(0.92 1)" dy="3.11">500</text>
<text transform="translate(791.69 803.57) rotate(46.14) scale(0.92 1)" dy="3.11">600</text>
<text transform="translate(786.05 808.89) rotate(47.2) scale(0.92 1)" dy="3.11">700</text>
<text transform="translate(780.32 814.11) rotate(48.25) scale(0.92 1)" dy="3.11">800</text>
<text transform="translate(774.49 819.21) rotate(49.31) scale(0.92 1)" dy="3.11">900</text>
<text transform="translate(768.56 824.21) rotate(50.36) scale(0.92 1)" dy="3.11">1000</text>
<text transform="translate(762.55 829.1) rotate(51.42) scale(0.92 1)" dy="3.11">1100</text>
<text transform="translate(756.44 833.88) rotate(52.47) scale(0.92 1)" dy="3.11">1200</text>
<text transform="translate(750.25 838.55) rotate(53.53) scale(0.92 1)" dy="3.11">1300</text>
<text transform="translate(743.98 843.1) rotate(54.58) scale(0.92 1)" dy="3.11">1400</text>
<text transform="translate(737.62 847.53) rotate(55.64) scale(0.92 1)" dy="3.11">1500</text>
<text transform="translate(731.18 851.85) rotate(56.69) scale(0.92 1)" dy="3.11">1600</text>
<text transform="translate(724.66 856.04) rotate(57.75) scale(0.92 1)" dy="3.11">1700</text>
<text transform="translate(718.07 860.12) rotate(58.8) scale(0.92 1)" dy="3.11">1800</text>
<text transform="translate(711.4 864.07) rotate(59.86) scale(0.92 1)" dy="3.11">1900</text>
<text transform="translate(704.66 867.91) rotate(60.91) scale(0.92 1)" dy="3.11">2000</text>
<text transform="translate(697.85 871.61) rotate(61.97) scale(0.92 1)" dy="3.11">2100</text>
<text transform="translate(690.98 875.19) rotate(63.02) scale(0.92 1)" dy="3.11">2200</text>
<text transform="translate(684.04 878.64) rotate(64.08) scale(0.92 1)" dy="3.11">2300</text>
<text transform="translate(677.03 881.97) rotate(65.13) scale(0.92 1)" dy="3.11">2400</text>
<text transform="translate(669.97 885.16) rotate(66.19) scale(0.92 1)" dy="3.11">2500</text>
<text transform="translate(662.85 888.23) rotate(67.24) scale(0.92 1)" dy="3.11">2600</text>
<text transform="translate(655.68 891.16) rotate(68.3) scale(0.92 1)" dy="3.11">2700</text>
<text transform="translate(648.45 893.96) rotate(69.35) scale(0.92 1)" dy="3.11">2800</text>
<text transform="translate(627.92 901.09) rotate(72.31) scale(0.92 1)" dy="3.11">100</text>
<text transform="translate(620.52 903.38) rotate(73.37) scale(0.92 1)" dy="3.11">200</text>
<text transform="translate(613.07 905.53) rotate(74.42) scale(0.92 1)" dy="3.11">300</text>
<text transform="translate(605.58 907.55) rotate(75.48) scale(0.92 1)" dy="3.11">400</text>
<text transform="translate(598.06 909.42) rotate(76.53) scale(0.92 1)" dy="3.11">500</text>
<text transform="translate(590.51 911.16) rotate(77.59) scale(0.92 1)" dy="3.11">600</text>
<text transform="translate(582.92 912.75) rotate(78.64) scale(0.92 1)" dy="3.11">700</text>
<text transform="translate(575.31 914.21) rotate(79.7) scale(0.92 1)" dy="3.11">800</text>
<text transform="translate(567.67 915.53) rotate(80.75) scale(0.92 1)" dy="3.11">900</text>
<text transform="translate(547.53 918.31) rotate(83.52) scale(0.92 1)" dy="3.11">100</text>
<text transform="translate(539.82 919.11) rotate(84.57) scale(0.92 1)" dy="3.11">200</text>
<text transform="translate(532.1 919.77) rotate(85.63) scale(0.92 1)" dy="3.11">300</text>
<text transform="translate(524.36 920.29) rotate(86.68) scale(0.92 1)" dy="3.11">400</text>
<text transform="translate(516.62 920.67) rotate(87.74) scale(0.92 1)" dy="3.11">500</text>
<text transform="translate(508.87 920.91) rotate(88.79) scale(0.92 1)" dy="3.11">600</text>
<text transform="translate(501.12 921) rotate(89.85) scale(0.92 1)" dy="3.11">700</text>
<text transform="translate(493.39 919.66) rotate(270.9) scale(0.92 1)" dy="5.51" text-anchor="end">800</text>
<text transform="translate(485.66 919.47) rotate(271.96) scale(0.92 1)" dy="5.51" text-anchor="end">900</text>
<text transform="translate(477.94 919.13) rotate(273.01) scale(0.92 1)" dy="5.51" text-anchor="end">1000</text>
<text transform="translate(456.03 917.4) rotate(276.01) scale(0.92 1)" dy="5.51" text-anchor="end">100</text>
<text transform="translate(448.36 916.52) rotate(277.07) scale(0.92 1)" dy="5.51" text-anchor="end">200</text>
<text transform="translate(440.7 915.5) rotate(278.12) scale(0.92 1)" dy="5.51" text-anchor="end">300</text>
<text transform="translate(433.06 914.34) rotate(279.18) scale(0.92 1)" dy="5.51" text-anchor="end">400</text>
<text transform="translate(425.44 913.04) rotate(280.23) scale(0.92 1)" dy="5.51" text-anchor="end">500</text>
<text transform="translate(417.85 911.59) rotate(281.29) scale(0.92 1)" dy="5.51" text-anchor="end">600</text>
<text transform="translate(410.28 910.01) rotate(282.34) scale(0.92 1)" dy="5.51" text-anchor="end">700</text>
<text transform="translate(402.75 908.29) rotate(283.4) scale(0.92 1)" dy="5.51" text-anchor="end">800</text>
<text transform="translate(395.25 906.43) rotate(284.45) scale(0.92 1)" dy="5.51" text-anchor="end">900</text>
<text transform="translate(372.44 899.86) rotate(287.69) scale(0.92 1)" dy="5.51" text-anchor="end">100</text>
<text transform="translate(365.1 897.44) rotate(288.75) scale(0.92 1)" dy="5.51" text-anchor="end">200</text>
<text transform="translate(357.8 894.89) rotate(289.8) scale(0.92 1)" dy="5.51" text-anchor="end">300</text>
<text transform="translate(350.56 892.2) rotate(290.86) scale(0.92 1)" dy="5.51" text-anchor="end">400</text>
<text transform="translate(343.36 889.39) rotate(291.91) scale(0.92 1)" dy="5.51" text-anchor="end">500</text>
<text transform="translate(336.22 886.44) rotate(292.97) scale(0.92 1)" dy="5.51" text-anchor="end">600</text>
<text transform="translate(314.81 876.65) rotate(296.18) scale(0.92 1)" dy="5.51" text-anchor="end">100</text>
<text transform="translate(307.91 873.18) rotate(297.24) scale(0.92 1)" dy="5.51" text-anchor="end">200</text>
<text transform="translate(301.07 869.58) rotate(298.29) scale(0.92 1)" dy="5.51" text-anchor="end">300</text>
<text transform="translate(294.3 865.85) rotate(299.35) scale(0.92 1)" dy="5.51" text-anchor="end">400</text>
<text transform="translate(287.6 862) rotate(300.4) scale(0.92 1)" dy="5.51" text-anchor="end">500</text>
<text transform="translate(280.97 858.03) rotate(301.46) scale(0.92 1)" dy="5.51" text-anchor="end">600</text>
<text transform="translate(274.42 853.94) rotate(302.51) scale(0.92 1)" dy="5.51" text-anchor="end">700</text>
<text transform="translate(267.94 849.72) rotate(303.57) scale(0.92 1)" dy="5.51" text-anchor="end">800</text>
<text transform="translate(261.54 845.39) rotate(304.62) scale(0.92 1)" dy="5.51" text-anchor="end">900</text>
<text transform="translate(255.22 840.94) rotate(305.68) scale(0.92 1)" dy="5.51" text-anchor="end">1000</text>
<text transform="translate(248.98 836.38) rotate(306.73) scale(0.92 1)" dy="5.51" text-anchor="end">1100</text>
<text transform="translate(242.83 831.7) rotate(307.79) scale(0.92 1)" dy="5.51" text-anchor="end">1200</text>
<text transform="translate(236.77 826.91) rotate(308.84) scale(0.92 1)" dy="5.51" text-anchor="end">1300</text>
<text transform="translate(230.79 822) rotate(309.9) scale(0.92 1)" dy="5.51" text-anchor="end">1400</text>
<text transform="translate(212.62 805.9) rotate(313.21) scale(0.92 1)" dy="5.51" text-anchor="end">100</text>
<text transform="translate(207.04 800.55) rotate(314.27) scale(0.92 1)" dy="5.51" text-anchor="end">200</text>
<text transform="translate(201.56 795.11) rotate(315.32) scale(0.92 1)" dy="5.51" text-anchor="end">300</text>
<text transform="translate(196.17 789.56) rotate(316.38) scale(0.92 1)" dy="5.51" text-anchor="end">400</text>
<text transform="translate(190.89 783.92) rotate(317.43) scale(0.92 1)" dy="5.51" text-anchor="end">500</text>
<text transform="translate(185.72 778.18) rotate(318.49) scale(0.92 1)" dy="5.51" text-anchor="end">600</text>
<text transform="translate(180.65 772.35) rotate(319.54) scale(0.92 1)" dy="5.51" text-anchor="end">700</text>
<text transform="translate(175.69 766.42) rotate(320.6) scale(0.92 1)" dy="5.51" text-anchor="end">800</text>
<text transform="translate(170.84 760.4) rotate(321.65) scale(0.92 1)" dy="5.51" text-anchor="end">900</text>
<text transform="translate(166.1 754.3) rotate(322.71) scale(0.92 1)" dy="5.51" text-anchor="end">1000</text>
<text transform="translate(161.47 748.11) rotate(323.76) scale(0.92 1)" dy="5.51" text-anchor="end">1100</text>
<text transform="translate(156.96 741.83) rotate(324.82) scale(0.92 1)" dy="5.51" text-anchor="end">1200</text>
<text transform="translate(152.57 735.48) rotate(325.87) scale(0.92 1)" dy="5.51" text-anchor="end">1300</text>
<text transform="translate(139.4 714.77) rotate(329.22) scale(0.92 1)" dy="5.51" text-anchor="end">100</text>
<text transform="translate(135.51 708.09) rotate(330.28) scale(0.92 1)" dy="5.51" text-anchor="end">200</text>
<text transform="translate(131.74 701.35) rotate(331.33) scale(0.92 1)" dy="5.51" text-anchor="end">300</text>
<text transform="translate(128.09 694.53) rotate(332.39) scale(0.92 1)" dy="5.51" text-anchor="end">400</text>
<text transform="translate(124.57 687.65) rotate(333.44) scale(0.92 1)" dy="5.51" text-anchor="end">500</text>
<text transform="translate(121.18 680.71) rotate(334.5) scale(0.92 1)" dy="5.51" text-anchor="end">600</text>
<text transform="translate(117.92 673.7) rotate(335.55) scale(0.92 1)" dy="5.51" text-anchor="end">700</text>
<text transform="translate(114.79 666.64) rotate(336.61) scale(0.92 1)" dy="5.51" text-anchor="end">800</text>
<text transform="translate(111.78 659.52) rotate(337.66) scale(0.92 1)" dy="5.51" text-anchor="end">900</text>
<text transform="translate(108.91 652.34) rotate(338.72) scale(0.92 1)" dy="5.51" text-anchor="end">1000</text>
<text transform="translate(106.17 645.11) rotate(339.77) scale(0.92 1)" dy="5.51" text-anchor="end">1100</text>
<text transform="translate(98.07 620.86) rotate(343.26) scale(0.92 1)" dy="5.51" text-anchor="end">100</text>
<text transform="translate(95.91 613.44) rotate(344.32) scale(0.92 1)" dy="5.51" text-anchor="end">200</text>
<text transform="translate(93.89 605.98) rotate(345.37) scale(0.92 1)" dy="5.51" text-anchor="end">300</text>
<text transform="translate(92.01 598.48) rotate(346.43) scale(0.92 1)" dy="5.51" text-anchor="end">400</text>
<text transform="translate(90.26 590.95) rotate(347.48) scale(0.92 1)" dy="5.51" text-anchor="end">500</text>
<text transform="translate(88.66 583.4) rotate(348.54) scale(0.92 1)" dy="5.51" text-anchor="end">600</text>
<text transform="translate(87.19 575.81) rotate(349.59) scale(0.92 1)" dy="5.51" text-anchor="end">700</text>
<text transform="translate(85.87 568.19) rotate(350.65) scale(0.92 1)" dy="5.51" text-anchor="end">800</text>
<text transform="translate(84.68 560.56) rotate(351.7) scale(0.92 1)" dy="5.51" text-anchor="end">900</text>
<text transform="translate(83.64 552.9) rotate(352.76) scale(0.92 1)" dy="5.51" text-anchor="end">1000</text>
<text transform="translate(82.73 545.22) rotate(353.81) scale(0.92 1)" dy="5.51" text-anchor="end">1100</text>
<text transform="translate(81.97 537.53) rotate(354.87) scale(0.92 1)" dy="5.51" text-anchor="end">1200</text>
<text transform="translate(81.35 529.83) rotate(355.92) scale(0.92 1)" dy="5.51" text-anchor="end">1300</text>
<text transform="translate(80.87 522.12) rotate(356.98) scale(0.92 1)" dy="5.51" text-anchor="end">1400</text>
<text transform="translate(80.53 514.4) rotate(358.03) scale(0.92 1)" dy="5.51" text-anchor="end">1500</text>
<text transform="translate(80.34 506.67) rotate(359.09) scale(0.92 1)" dy="5.51" text-anchor="end">1600</text>
<text transform="translate(80.29 498.94) rotate(360.14) scale(0.92 1)" dy="5.51" text-anchor="end">1700</text>
<text transform="translate(80.38 491.22) rotate(361.2) scale(0.92 1)" dy="5.51" text-anchor="end">1800</text>
<text transform="translate(80.61 483.49) rotate(362.25) scale(0.92 1)" dy="5.51" text-anchor="end">1900</text>
<text transform="translate(80.99 475.77) rotate(363.31) scale(0.92 1)" dy="5.51" text-anchor="end">2000</text>
<text transform="translate(81.5 468.06) rotate(364.36) scale(0.92 1)" dy="5.51" text-anchor="end">2100</text>
<text transform="translate(82.16 460.36) rotate(365.42) scale(0.92 1)" dy="5.51" text-anchor="end">2200</text>
<text transform="translate(82.96 452.67) rotate(366.47) scale(0.92 1)" dy="5.51" text-anchor="end">2300</text>
<text transform="translate(83.91 445) rotate(367.53) scale(0.92 1)" dy="5.51" text-anchor="end">2400</text>
<text transform="translate(88.44 417.7) rotate(371.31) scale(0.92 1)" dy="5.51" text-anchor="end">100</text>
<text transform="translate(90.02 410.14) rotate(372.36) scale(0.92 1)" dy="5.51" text-anchor="end">200</text>
<text transform="translate(91.75 402.6) rotate(373.42) scale(0.92 1)" dy="5.51" text-anchor="end">300</text>
<text transform="translate(93.61 395.1) rotate(374.47) scale(0.92 1)" dy="5.51" text-anchor="end">400</text>
<text transform="translate(95.61 387.64) rotate(375.53) scale(0.92 1)" dy="5.51" text-anchor="end">500</text>
<text transform="translate(97.75 380.21) rotate(376.58) scale(0.92 1)" dy="5.51" text-anchor="end">600</text>
<text transform="translate(100.02 372.82) rotate(377.64) scale(0.92 1)" dy="5.51" text-anchor="end">700</text>
<text transform="translate(102.43 365.48) rotate(378.69) scale(0.92 1)" dy="5.51" text-anchor="end">800</text>
<text transform="translate(110.82 342.86) rotate(381.99) scale(0.92 1)" dy="5.51" text-anchor="end">100</text>
<text transform="translate(113.77 335.72) rotate(383.04) scale(0.92 1)" dy="5.51" text-anchor="end">200</text>
<text transform="translate(116.87 328.64) rotate(384.1) scale(0.92 1)" dy="5.51" text-anchor="end">300</text>
<text transform="translate(120.09 321.61) rotate(385.15) scale(0.92 1)" dy="5.51" text-anchor="end">400</text>
<text transform="translate(123.43 314.65) rotate(386.21) scale(0.92 1)" dy="5.51" text-anchor="end">500</text>
<text transform="translate(126.91 307.74) rotate(387.26) scale(0.92 1)" dy="5.51" text-anchor="end">600</text>
<text transform="translate(130.51 300.91) rotate(388.32) scale(0.92 1)" dy="5.51" text-anchor="end">700</text>
<text transform="translate(134.24 294.14) rotate(389.37) scale(0.92 1)" dy="5.51" text-anchor="end">800</text>
<text transform="translate(138.09 287.44) rotate(390.43) scale(0.92 1)" dy="5.51" text-anchor="end">900</text>
<text transform="translate(142.07 280.81) rotate(391.48) scale(0.92 1)" dy="5.51" text-anchor="end">1000</text>
<text transform="translate(146.17 274.26) rotate(392.54) scale(0.92 1)" dy="5.51" text-anchor="end">1100</text>
<text transform="translate(158.45 256.07) rotate(395.53) scale(0.92 1)" dy="5.51" text-anchor="end">100</text>
<text transform="translate(163 249.82) rotate(396.59) scale(0.92 1)" dy="5.51" text-anchor="end">200</text>
<text transform="translate(167.66 243.66) rotate(397.64) scale(0.92 1)" dy="5.51" text-anchor="end">300</text>
<text transform="translate(172.44 237.59) rotate(398.7) scale(0.92 1)" dy="5.51" text-anchor="end">400</text>
<text transform="translate(177.32 231.6) rotate(399.75) scale(0.92 1)" dy="5.51" text-anchor="end">500</text>
<text transform="translate(182.32 225.7) rotate(400.81) scale(0.92 1)" dy="5.51" text-anchor="end">600</text>
<text transform="translate(187.43 219.9) rotate(401.86) scale(0.92 1)" dy="5.51" text-anchor="end">700</text>
<text transform="translate(204.57 201.88) rotate(405.26) scale(0.92 1)" dy="5.51" text-anchor="end">100</text>
<text transform="translate(210.11 196.49) rotate(406.31) scale(0.92 1)" dy="5.51" text-anchor="end">200</text>
<text transform="translate(215.75 191.2) rotate(407.37) scale(0.92 1)" dy="5.51" text-anchor="end">300</text>
<text transform="translate(221.48 186.02) rotate(408.43) scale(0.92 1)" dy="5.51" text-anchor="end">400</text>
<text transform="translate(227.31 180.94) rotate(409.48) scale(0.92 1)" dy="5.51" text-anchor="end">500</text>
<text transform="translate(233.23 175.98) rotate(410.53) scale(0.92 1)" dy="5.51" text-anchor="end">600</text>
<text transform="translate(239.24 171.12) rotate(411.59) scale(0.92 1)" dy="5.51" text-anchor="end">700</text>
<text transform="translate(245.34 166.37) rotate(412.64) scale(0.92 1)" dy="5.51" text-anchor="end">800</text>
<text transform="translate(251.52 161.74) rotate(413.7) scale(0.92 1)" dy="5.51" text-anchor="end">900</text>
<text transform="translate(257.8 157.22) rotate(414.75) scale(0.92 1)" dy="5.51" text-anchor="end">1000</text>
<text transform="translate(264.15 152.82) rotate(415.81) scale(0.92 1)" dy="5.51" text-anchor="end">1100</text>
<text transform="translate(270.58 148.54) rotate(416.87) scale(0.92 1)" dy="5.51" text-anchor="end">1200</text>
<text transform="translate(277.09 144.37) rotate(417.92) scale(0.92 1)" dy="5.51" text-anchor="end">1300</text>
<text transform="translate(283.68 140.33) rotate(418.97) scale(0.92 1)" dy="5.51" text-anchor="end">1400</text>
<text transform="translate(290.33 136.41) rotate(420.03) scale(0.92 1)" dy="5.51" text-anchor="end">1500</text>
<text transform="translate(297.06 132.61) rotate(421.08) scale(0.92 1)" dy="5.51" text-anchor="end">1600</text>
<text transform="translate(303.86 128.94) rotate(422.14) scale(0.92 1)" dy="5.51" text-anchor="end">1700</text>
<text transform="translate(310.73 125.39) rotate(423.19) scale(0.92 1)" dy="5.51" text-anchor="end">1800</text>
<text transform="translate(317.66 121.97) rotate(424.25) scale(0.92 1)" dy="5.51" text-anchor="end">1900</text>
<text transform="translate(324.65 118.67) rotate(425.31) scale(0.92 1)" dy="5.51" text-anchor="end">2000</text>
<text transform="translate(331.7 115.51) rotate(426.36) scale(0.92 1)" dy="5.51" text-anchor="end">2100</text>
<text transform="translate(353.5 106.69) rotate(429.57) scale(0.92 1)" dy="5.51" text-anchor="end">100</text>
<text transform="translate(360.77 104.06) rotate(430.63) scale(0.92 1)" dy="5.51" text-anchor="end">200</text>
<text transform="translate(368.08 101.56) rotate(431.68) scale(0.92 1)" dy="5.51" text-anchor="end">300</text>
<text transform="translate(375.44 99.2) rotate(432.74) scale(0.92 1)" dy="5.51" text-anchor="end">400</text>
<text transform="translate(382.84 96.97) rotate(433.79) scale(0.92 1)" dy="5.51" text-anchor="end">500</text>
<text transform="translate(390.28 94.88) rotate(434.85) scale(0.92 1)" dy="5.51" text-anchor="end">600</text>
<text transform="translate(397.76 92.93) rotate(435.9) scale(0.92 1)" dy="5.51" text-anchor="end">700</text>
<text transform="translate(405.27 91.12) rotate(436.96) scale(0.92 1)" dy="5.51" text-anchor="end">800</text>
<text transform="translate(412.81 89.44) rotate(438.01) scale(0.92 1)" dy="5.51" text-anchor="end">900</text>
<text transform="translate(420.39 87.91) rotate(439.07) scale(0.92 1)" dy="5.51" text-anchor="end">1000</text>
<text transform="translate(427.99 86.51) rotate(440.12) scale(0.92 1)" dy="5.51" text-anchor="end">1100</text>
<text transform="translate(435.61 85.26) rotate(441.18) scale(0.92 1)" dy="5.51" text-anchor="end">1200</text>
<text transform="translate(443.26 84.14) rotate(442.23) scale(0.92 1)" dy="5.51" text-anchor="end">1300</text>
<text transform="translate(450.93 83.17) rotate(443.29) scale(0.92 1)" dy="5.51" text-anchor="end">1400</text>
<text transform="translate(458.61 82.33) rotate(444.34) scale(0.92 1)" dy="5.51" text-anchor="end">1500</text>
<text transform="translate(466.31 81.64) rotate(445.4) scale(0.92 1)" dy="5.51" text-anchor="end">1600</text>
<text transform="translate(474.02 81.09) rotate(446.45) scale(0.92 1)" dy="5.51" text-anchor="end">1700</text>
<text transform="translate(481.73 80.69) rotate(447.51) scale(0.92 1)" dy="5.51" text-anchor="end">1800</text>
</g>
<g id="names" font-family="'Liberation Sans', sans-serif" font-size="11.2" fill="#606060">
<text transform="translate(551.19 41.85) rotate(6.38) scale(0.95 1)" dy="3.9" text-anchor="middle">TcDm28c_13</text>
<text transform="translate(657.86 66.87) rotate(20.02) scale(0.95 1)" dy="3.9" text-anchor="middle">TcDm25_Chr16_H1_c1</text>
<text transform="translate(721.1 95.48) rotate(28.66) scale(0.95 1)" dy="3.9" text-anchor="middle">TcDm25_Chr30_H1_c2</text>
<text transform="translate(796.63 147.11) rotate(40.05) scale(0.95 1)" dy="3.9" text-anchor="middle">TcDm25_Chr06_H1</text>
<text transform="translate(888.8 252.3) rotate(57.5) scale(0.95 1)" dy="3.9" text-anchor="middle">TcDm25_Chr09_H1</text>
<text transform="translate(937.81 355.63) rotate(71.75) scale(0.95 1)" dy="3.9" text-anchor="middle">TcDm25_Chr11_H1_c1</text>
<text transform="translate(960.7 483.51) rotate(87.95) scale(0.95 1)" dy="3.9" text-anchor="middle">TcDm25_Chr31_H1_c1</text>
<text transform="translate(952.34 588.95) rotate(-78.88) scale(0.95 1)" dy="3.9" text-anchor="middle">TcDm25_Chr29_H1</text>
<text transform="translate(926.98 673.81) rotate(-67.85) scale(0.95 1)" dy="3.9" text-anchor="middle">TcDm25_Chr17_H1</text>
<text transform="translate(879.58 761.61) rotate(-55.43) scale(0.95 1)" dy="3.9" text-anchor="middle">TcDm25_Chr01_H1</text>
<text transform="translate(764.09 877.86) rotate(-34.95) scale(0.95 1)" dy="3.9" text-anchor="middle">TcDm25_Chr04_H1_c1</text>
<text transform="translate(607.81 948.22) rotate(-13.53) scale(0.95 1)" dy="3.9" text-anchor="middle">TcDm25_Chr21_H1_c1</text>
<text transform="translate(514.48 960.77) rotate(-1.8) scale(0.95 1)" dy="3.9" text-anchor="middle">TcDm25_Chr18_H1</text>
<text transform="translate(418.76 953.79) rotate(10.15) scale(0.95 1)" dy="3.9" text-anchor="middle">TcDm25_Chr15_H1</text>
<text transform="translate(340.44 932.51) rotate(20.25) scale(0.95 1)" dy="3.9" text-anchor="middle">TcDm25_Chr23_H1</text>
<text transform="translate(249.26 886.85) rotate(32.95) scale(0.95 1)" dy="3.9" text-anchor="middle">TcDm25_Chr07_H1</text>
<text transform="translate(149.71 799.7) rotate(49.45) scale(0.95 1)" dy="3.9" text-anchor="middle">TcDm25_Chr05_H1</text>
<text transform="translate(84.08 698.83) rotate(64.45) scale(0.95 1)" dy="3.9" text-anchor="middle">TcDm25_Chr10_H1</text>
<text transform="translate(40.55 537.77) rotate(85.3) scale(0.95 1)" dy="3.9" text-anchor="middle">TcDm25_Chr30_H1_c1</text>
<text transform="translate(54.5 381.46) rotate(284.9) scale(0.95 1)" dy="3.9" text-anchor="middle">TcDm25_Chr24_H1_c1</text>
<text transform="translate(89.98 289.28) rotate(297.2) scale(0.95 1)" dy="3.9" text-anchor="middle">TcDm25_Chr12_H1</text>
<text transform="translate(139.97 212.08) rotate(308.65) scale(0.95 1)" dy="3.9" text-anchor="middle">TcDm25_Chr25_H1</text>
<text transform="translate(240.55 118.94) rotate(325.75) scale(0.95 1)" dy="3.9" text-anchor="middle">TcDm25_Chr02_H1</text>
<text transform="translate(407.7 48.34) rotate(348.45) scale(0.95 1)" dy="3.9" text-anchor="middle">TcDm25_Chr03_H1</text>
</g>
</svg>
</body></html>
